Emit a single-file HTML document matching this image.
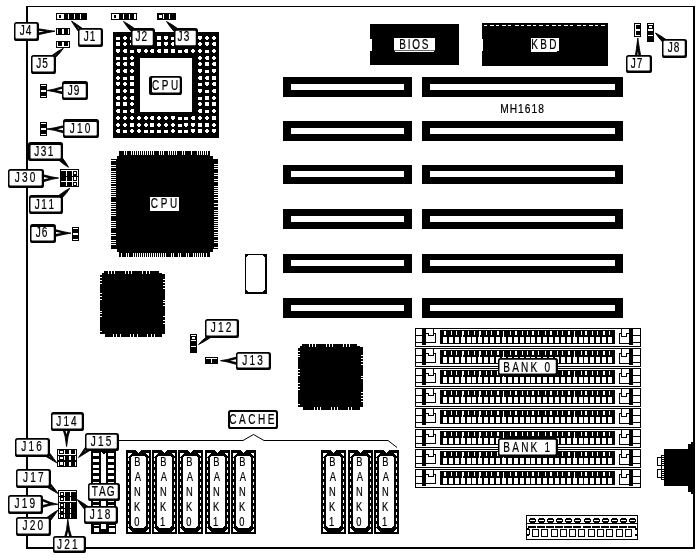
<!DOCTYPE html>
<html lang="en"><head><meta charset="utf-8"><title>MH1618 motherboard layout</title>
<style>
html,body{margin:0;padding:0;background:#fff}
svg{display:block}
svg{will-change:transform}
text{stroke:#000;stroke-width:.22px;font-kerning:none;font-family:"Liberation Sans",sans-serif;fill:#000}
</style></head>
<body>
<svg width="700" height="560" viewBox="0 0 700 560" shape-rendering="crispEdges">
<rect x="0" y="0" width="700" height="560" fill="#fff"/>
<rect x="26" y="6" width="669" height="543" fill="#000"/>
<rect x="28" y="7" width="665" height="540" fill="#fff"/>
<rect x="283" y="77" width="129" height="20" fill="#000"/>
<rect x="291" y="84" width="113" height="6" fill="#fff"/>
<rect x="422" y="77" width="201" height="20" fill="#000"/>
<rect x="430" y="84" width="185" height="6" fill="#fff"/>
<rect x="283" y="121" width="129" height="20" fill="#000"/>
<rect x="291" y="128" width="113" height="6" fill="#fff"/>
<rect x="422" y="121" width="201" height="20" fill="#000"/>
<rect x="430" y="128" width="185" height="6" fill="#fff"/>
<rect x="283" y="165" width="129" height="19" fill="#000"/>
<rect x="291" y="171" width="113" height="6" fill="#fff"/>
<rect x="422" y="165" width="201" height="19" fill="#000"/>
<rect x="430" y="171" width="185" height="6" fill="#fff"/>
<rect x="283" y="209" width="129" height="20" fill="#000"/>
<rect x="291" y="216" width="113" height="6" fill="#fff"/>
<rect x="422" y="209" width="201" height="20" fill="#000"/>
<rect x="430" y="216" width="185" height="6" fill="#fff"/>
<rect x="283" y="254" width="129" height="19" fill="#000"/>
<rect x="291" y="260" width="113" height="6" fill="#fff"/>
<rect x="422" y="254" width="201" height="19" fill="#000"/>
<rect x="430" y="260" width="185" height="6" fill="#fff"/>
<rect x="283" y="298" width="129" height="20" fill="#000"/>
<rect x="291" y="305" width="113" height="6" fill="#fff"/>
<rect x="422" y="298" width="201" height="20" fill="#000"/>
<rect x="430" y="305" width="185" height="6" fill="#fff"/>
<rect x="370" y="24" width="89" height="41" fill="#000"/>
<rect x="370" y="39" width="2" height="12" fill="#fff"/>
<rect x="394" y="38" width="41" height="12" fill="#fff"/>
<rect x="394" y="50" width="41" height="1" fill="#666"/>
<rect x="395" y="51" width="39" height="1" fill="#fff"/>
<rect x="482" y="23" width="126" height="43" fill="#000"/>
<rect x="482" y="39" width="1" height="12" fill="#fff"/>
<rect x="484" y="25" width="3" height="1" fill="#fff"/>
<rect x="490" y="25" width="4" height="1" fill="#fff"/>
<rect x="496" y="25" width="3" height="1" fill="#fff"/>
<rect x="502" y="25" width="4" height="1" fill="#fff"/>
<rect x="508" y="25" width="3" height="1" fill="#fff"/>
<rect x="515" y="25" width="4" height="1" fill="#fff"/>
<rect x="521" y="25" width="3" height="1" fill="#fff"/>
<rect x="527" y="25" width="4" height="1" fill="#fff"/>
<rect x="533" y="25" width="3" height="1" fill="#fff"/>
<rect x="539" y="25" width="4" height="1" fill="#fff"/>
<rect x="546" y="25" width="3" height="1" fill="#fff"/>
<rect x="552" y="25" width="4" height="1" fill="#fff"/>
<rect x="558" y="25" width="3" height="1" fill="#fff"/>
<rect x="564" y="25" width="4" height="1" fill="#fff"/>
<rect x="570" y="25" width="3" height="1" fill="#fff"/>
<rect x="577" y="25" width="4" height="1" fill="#fff"/>
<rect x="583" y="25" width="3" height="1" fill="#fff"/>
<rect x="589" y="25" width="4" height="1" fill="#fff"/>
<rect x="595" y="25" width="3" height="1" fill="#fff"/>
<rect x="601" y="25" width="4" height="1" fill="#fff"/>
<rect x="531" y="38" width="28" height="13" fill="#fff"/>
<rect x="531" y="51" width="26" height="1" fill="#fff"/>
<text transform="translate(399.18,49) scale(0.710,1)" font-size="14" letter-spacing="2.59">BIOS</text>
<text transform="translate(531.18,49) scale(0.710,1)" font-size="14" letter-spacing="3.42">KBD</text>
<text transform="translate(500.16,113) scale(0.850,1)" font-size="12" letter-spacing="1.23">MH1618</text>
<rect x="113" y="32" width="106" height="106" fill="#000"/>
<rect x="140" y="58" width="52" height="54" fill="#fff"/>
<rect x="116" y="37" width="4" height="3" fill="#fff"/>
<rect x="124" y="36" width="2" height="4" fill="#fff"/>
<rect x="123" y="37" width="4" height="2" fill="#fff"/>
<rect x="130" y="37" width="4" height="3" fill="#fff"/>
<rect x="138" y="36" width="2" height="4" fill="#fff"/>
<rect x="137" y="37" width="4" height="2" fill="#fff"/>
<rect x="145" y="36" width="2" height="4" fill="#fff"/>
<rect x="144" y="37" width="4" height="2" fill="#fff"/>
<rect x="150" y="36" width="4" height="4" fill="#fff"/>
<rect x="157" y="36" width="4" height="4" fill="#fff"/>
<rect x="164" y="36" width="4" height="3" fill="#fff"/>
<rect x="165" y="39" width="2" height="1" fill="#fff"/>
<rect x="171" y="37" width="4" height="3" fill="#fff"/>
<rect x="178" y="37" width="4" height="3" fill="#fff"/>
<rect x="185" y="36" width="3" height="4" fill="#fff"/>
<rect x="184" y="37" width="1" height="2" fill="#fff"/>
<rect x="192" y="36" width="2" height="4" fill="#fff"/>
<rect x="191" y="37" width="4" height="2" fill="#fff"/>
<rect x="198" y="36" width="4" height="3" fill="#fff"/>
<rect x="199" y="39" width="2" height="1" fill="#fff"/>
<rect x="206" y="36" width="2" height="4" fill="#fff"/>
<rect x="205" y="37" width="4" height="2" fill="#fff"/>
<rect x="213" y="36" width="2" height="4" fill="#fff"/>
<rect x="212" y="37" width="4" height="2" fill="#fff"/>
<rect x="116" y="42" width="4" height="4" fill="#fff"/>
<rect x="124" y="42" width="2" height="4" fill="#fff"/>
<rect x="123" y="43" width="4" height="2" fill="#fff"/>
<rect x="131" y="42" width="3" height="4" fill="#fff"/>
<rect x="130" y="43" width="1" height="2" fill="#fff"/>
<rect x="138" y="42" width="2" height="4" fill="#fff"/>
<rect x="137" y="43" width="4" height="2" fill="#fff"/>
<rect x="144" y="42" width="4" height="3" fill="#fff"/>
<rect x="145" y="45" width="2" height="1" fill="#fff"/>
<rect x="151" y="42" width="2" height="4" fill="#fff"/>
<rect x="150" y="43" width="4" height="2" fill="#fff"/>
<rect x="157" y="42" width="4" height="4" fill="#fff"/>
<rect x="164" y="42" width="4" height="3" fill="#fff"/>
<rect x="165" y="45" width="2" height="1" fill="#fff"/>
<rect x="172" y="42" width="2" height="4" fill="#fff"/>
<rect x="171" y="43" width="4" height="2" fill="#fff"/>
<rect x="178" y="43" width="4" height="3" fill="#fff"/>
<rect x="184" y="42" width="4" height="4" fill="#fff"/>
<rect x="192" y="42" width="3" height="4" fill="#fff"/>
<rect x="191" y="43" width="1" height="2" fill="#fff"/>
<rect x="199" y="42" width="2" height="4" fill="#fff"/>
<rect x="198" y="43" width="4" height="2" fill="#fff"/>
<rect x="205" y="42" width="4" height="3" fill="#fff"/>
<rect x="206" y="45" width="2" height="1" fill="#fff"/>
<rect x="213" y="42" width="3" height="4" fill="#fff"/>
<rect x="212" y="43" width="1" height="2" fill="#fff"/>
<rect x="116" y="49" width="4" height="3" fill="#fff"/>
<rect x="117" y="52" width="2" height="1" fill="#fff"/>
<rect x="124" y="49" width="3" height="4" fill="#fff"/>
<rect x="123" y="50" width="1" height="2" fill="#fff"/>
<rect x="130" y="50" width="4" height="3" fill="#fff"/>
<rect x="137" y="49" width="4" height="3" fill="#fff"/>
<rect x="138" y="52" width="2" height="1" fill="#fff"/>
<rect x="145" y="49" width="2" height="4" fill="#fff"/>
<rect x="144" y="50" width="4" height="2" fill="#fff"/>
<rect x="151" y="49" width="3" height="4" fill="#fff"/>
<rect x="150" y="50" width="1" height="2" fill="#fff"/>
<rect x="158" y="49" width="3" height="4" fill="#fff"/>
<rect x="157" y="50" width="1" height="2" fill="#fff"/>
<rect x="164" y="49" width="4" height="4" fill="#fff"/>
<rect x="171" y="49" width="4" height="4" fill="#fff"/>
<rect x="178" y="50" width="4" height="3" fill="#fff"/>
<rect x="185" y="49" width="3" height="4" fill="#fff"/>
<rect x="184" y="50" width="1" height="2" fill="#fff"/>
<rect x="192" y="49" width="2" height="4" fill="#fff"/>
<rect x="191" y="50" width="4" height="2" fill="#fff"/>
<rect x="199" y="49" width="2" height="4" fill="#fff"/>
<rect x="198" y="50" width="4" height="2" fill="#fff"/>
<rect x="205" y="50" width="4" height="3" fill="#fff"/>
<rect x="213" y="49" width="2" height="4" fill="#fff"/>
<rect x="212" y="50" width="4" height="2" fill="#fff"/>
<rect x="116" y="57" width="4" height="3" fill="#fff"/>
<rect x="123" y="57" width="4" height="3" fill="#fff"/>
<rect x="131" y="56" width="2" height="4" fill="#fff"/>
<rect x="130" y="57" width="4" height="2" fill="#fff"/>
<rect x="199" y="56" width="2" height="4" fill="#fff"/>
<rect x="198" y="57" width="4" height="2" fill="#fff"/>
<rect x="206" y="56" width="3" height="4" fill="#fff"/>
<rect x="205" y="57" width="1" height="2" fill="#fff"/>
<rect x="213" y="56" width="2" height="4" fill="#fff"/>
<rect x="212" y="57" width="4" height="2" fill="#fff"/>
<rect x="117" y="62" width="3" height="4" fill="#fff"/>
<rect x="116" y="63" width="1" height="2" fill="#fff"/>
<rect x="124" y="62" width="3" height="4" fill="#fff"/>
<rect x="123" y="63" width="1" height="2" fill="#fff"/>
<rect x="131" y="62" width="3" height="4" fill="#fff"/>
<rect x="130" y="63" width="1" height="2" fill="#fff"/>
<rect x="199" y="62" width="2" height="4" fill="#fff"/>
<rect x="198" y="63" width="4" height="2" fill="#fff"/>
<rect x="205" y="62" width="4" height="4" fill="#fff"/>
<rect x="213" y="62" width="3" height="4" fill="#fff"/>
<rect x="212" y="63" width="1" height="2" fill="#fff"/>
<rect x="117" y="69" width="3" height="4" fill="#fff"/>
<rect x="116" y="70" width="1" height="2" fill="#fff"/>
<rect x="124" y="69" width="3" height="4" fill="#fff"/>
<rect x="123" y="70" width="1" height="2" fill="#fff"/>
<rect x="131" y="69" width="2" height="4" fill="#fff"/>
<rect x="130" y="70" width="4" height="2" fill="#fff"/>
<rect x="198" y="69" width="4" height="3" fill="#fff"/>
<rect x="199" y="72" width="2" height="1" fill="#fff"/>
<rect x="205" y="70" width="4" height="3" fill="#fff"/>
<rect x="212" y="69" width="4" height="3" fill="#fff"/>
<rect x="213" y="72" width="2" height="1" fill="#fff"/>
<rect x="117" y="76" width="2" height="4" fill="#fff"/>
<rect x="116" y="77" width="4" height="2" fill="#fff"/>
<rect x="123" y="77" width="4" height="3" fill="#fff"/>
<rect x="130" y="76" width="4" height="4" fill="#fff"/>
<rect x="199" y="76" width="3" height="4" fill="#fff"/>
<rect x="198" y="77" width="1" height="2" fill="#fff"/>
<rect x="206" y="76" width="3" height="4" fill="#fff"/>
<rect x="205" y="77" width="1" height="2" fill="#fff"/>
<rect x="212" y="76" width="4" height="4" fill="#fff"/>
<rect x="116" y="82" width="4" height="3" fill="#fff"/>
<rect x="117" y="85" width="2" height="1" fill="#fff"/>
<rect x="124" y="82" width="2" height="4" fill="#fff"/>
<rect x="123" y="83" width="4" height="2" fill="#fff"/>
<rect x="130" y="82" width="4" height="4" fill="#fff"/>
<rect x="198" y="83" width="4" height="3" fill="#fff"/>
<rect x="205" y="82" width="4" height="3" fill="#fff"/>
<rect x="206" y="85" width="2" height="1" fill="#fff"/>
<rect x="213" y="82" width="3" height="4" fill="#fff"/>
<rect x="212" y="83" width="1" height="2" fill="#fff"/>
<rect x="116" y="89" width="4" height="4" fill="#fff"/>
<rect x="124" y="89" width="2" height="4" fill="#fff"/>
<rect x="123" y="90" width="4" height="2" fill="#fff"/>
<rect x="130" y="89" width="4" height="4" fill="#fff"/>
<rect x="198" y="89" width="4" height="3" fill="#fff"/>
<rect x="199" y="92" width="2" height="1" fill="#fff"/>
<rect x="205" y="90" width="4" height="3" fill="#fff"/>
<rect x="213" y="89" width="3" height="4" fill="#fff"/>
<rect x="212" y="90" width="1" height="2" fill="#fff"/>
<rect x="117" y="96" width="3" height="4" fill="#fff"/>
<rect x="116" y="97" width="1" height="2" fill="#fff"/>
<rect x="124" y="96" width="2" height="4" fill="#fff"/>
<rect x="123" y="97" width="4" height="2" fill="#fff"/>
<rect x="131" y="96" width="3" height="4" fill="#fff"/>
<rect x="130" y="97" width="1" height="2" fill="#fff"/>
<rect x="198" y="97" width="4" height="3" fill="#fff"/>
<rect x="205" y="96" width="4" height="4" fill="#fff"/>
<rect x="213" y="96" width="2" height="4" fill="#fff"/>
<rect x="212" y="97" width="4" height="2" fill="#fff"/>
<rect x="116" y="102" width="4" height="4" fill="#fff"/>
<rect x="123" y="102" width="4" height="4" fill="#fff"/>
<rect x="131" y="102" width="2" height="4" fill="#fff"/>
<rect x="130" y="103" width="4" height="2" fill="#fff"/>
<rect x="199" y="102" width="2" height="4" fill="#fff"/>
<rect x="198" y="103" width="4" height="2" fill="#fff"/>
<rect x="205" y="102" width="4" height="4" fill="#fff"/>
<rect x="212" y="102" width="4" height="4" fill="#fff"/>
<rect x="117" y="109" width="3" height="4" fill="#fff"/>
<rect x="116" y="110" width="1" height="2" fill="#fff"/>
<rect x="123" y="110" width="4" height="3" fill="#fff"/>
<rect x="131" y="109" width="3" height="4" fill="#fff"/>
<rect x="130" y="110" width="1" height="2" fill="#fff"/>
<rect x="199" y="109" width="3" height="4" fill="#fff"/>
<rect x="198" y="110" width="1" height="2" fill="#fff"/>
<rect x="205" y="110" width="4" height="3" fill="#fff"/>
<rect x="213" y="109" width="2" height="4" fill="#fff"/>
<rect x="212" y="110" width="4" height="2" fill="#fff"/>
<rect x="117" y="116" width="2" height="4" fill="#fff"/>
<rect x="116" y="117" width="4" height="2" fill="#fff"/>
<rect x="124" y="116" width="2" height="4" fill="#fff"/>
<rect x="123" y="117" width="4" height="2" fill="#fff"/>
<rect x="131" y="116" width="2" height="4" fill="#fff"/>
<rect x="130" y="117" width="4" height="2" fill="#fff"/>
<rect x="138" y="116" width="2" height="4" fill="#fff"/>
<rect x="137" y="117" width="4" height="2" fill="#fff"/>
<rect x="145" y="116" width="2" height="4" fill="#fff"/>
<rect x="144" y="117" width="4" height="2" fill="#fff"/>
<rect x="151" y="116" width="3" height="4" fill="#fff"/>
<rect x="150" y="117" width="1" height="2" fill="#fff"/>
<rect x="158" y="116" width="2" height="4" fill="#fff"/>
<rect x="157" y="117" width="4" height="2" fill="#fff"/>
<rect x="165" y="116" width="2" height="4" fill="#fff"/>
<rect x="164" y="117" width="4" height="2" fill="#fff"/>
<rect x="171" y="116" width="4" height="3" fill="#fff"/>
<rect x="172" y="119" width="2" height="1" fill="#fff"/>
<rect x="178" y="117" width="4" height="3" fill="#fff"/>
<rect x="184" y="117" width="4" height="3" fill="#fff"/>
<rect x="192" y="116" width="3" height="4" fill="#fff"/>
<rect x="191" y="117" width="1" height="2" fill="#fff"/>
<rect x="199" y="116" width="2" height="4" fill="#fff"/>
<rect x="198" y="117" width="4" height="2" fill="#fff"/>
<rect x="206" y="116" width="2" height="4" fill="#fff"/>
<rect x="205" y="117" width="4" height="2" fill="#fff"/>
<rect x="212" y="116" width="4" height="4" fill="#fff"/>
<rect x="117" y="123" width="2" height="4" fill="#fff"/>
<rect x="116" y="124" width="4" height="2" fill="#fff"/>
<rect x="124" y="123" width="2" height="4" fill="#fff"/>
<rect x="123" y="124" width="4" height="2" fill="#fff"/>
<rect x="130" y="123" width="4" height="4" fill="#fff"/>
<rect x="138" y="123" width="2" height="4" fill="#fff"/>
<rect x="137" y="124" width="4" height="2" fill="#fff"/>
<rect x="145" y="123" width="2" height="4" fill="#fff"/>
<rect x="144" y="124" width="4" height="2" fill="#fff"/>
<rect x="150" y="123" width="4" height="4" fill="#fff"/>
<rect x="158" y="123" width="2" height="4" fill="#fff"/>
<rect x="157" y="124" width="4" height="2" fill="#fff"/>
<rect x="165" y="123" width="2" height="4" fill="#fff"/>
<rect x="164" y="124" width="4" height="2" fill="#fff"/>
<rect x="172" y="123" width="2" height="4" fill="#fff"/>
<rect x="171" y="124" width="4" height="2" fill="#fff"/>
<rect x="178" y="124" width="4" height="3" fill="#fff"/>
<rect x="184" y="123" width="4" height="3" fill="#fff"/>
<rect x="185" y="126" width="2" height="1" fill="#fff"/>
<rect x="191" y="123" width="4" height="3" fill="#fff"/>
<rect x="192" y="126" width="2" height="1" fill="#fff"/>
<rect x="198" y="123" width="4" height="4" fill="#fff"/>
<rect x="205" y="123" width="4" height="4" fill="#fff"/>
<rect x="213" y="123" width="2" height="4" fill="#fff"/>
<rect x="212" y="124" width="4" height="2" fill="#fff"/>
<rect x="117" y="129" width="3" height="4" fill="#fff"/>
<rect x="116" y="130" width="1" height="2" fill="#fff"/>
<rect x="123" y="130" width="4" height="3" fill="#fff"/>
<rect x="131" y="129" width="2" height="4" fill="#fff"/>
<rect x="130" y="130" width="4" height="2" fill="#fff"/>
<rect x="138" y="129" width="2" height="4" fill="#fff"/>
<rect x="137" y="130" width="4" height="2" fill="#fff"/>
<rect x="144" y="130" width="4" height="3" fill="#fff"/>
<rect x="150" y="130" width="4" height="3" fill="#fff"/>
<rect x="157" y="130" width="4" height="3" fill="#fff"/>
<rect x="164" y="130" width="4" height="3" fill="#fff"/>
<rect x="172" y="129" width="2" height="4" fill="#fff"/>
<rect x="171" y="130" width="4" height="2" fill="#fff"/>
<rect x="178" y="130" width="4" height="3" fill="#fff"/>
<rect x="184" y="130" width="4" height="3" fill="#fff"/>
<rect x="191" y="129" width="4" height="3" fill="#fff"/>
<rect x="192" y="132" width="2" height="1" fill="#fff"/>
<rect x="198" y="129" width="4" height="4" fill="#fff"/>
<rect x="206" y="129" width="2" height="4" fill="#fff"/>
<rect x="205" y="130" width="4" height="2" fill="#fff"/>
<rect x="212" y="129" width="4" height="3" fill="#fff"/>
<rect x="213" y="132" width="2" height="1" fill="#fff"/>
<rect x="117" y="156" width="96" height="96" fill="#000"/>
<rect x="119" y="151" width="91" height="5" fill="#000"/>
<rect x="124" y="151" width="1" height="4" fill="#fff"/>
<rect x="126" y="151" width="1" height="4" fill="#fff"/>
<rect x="131" y="151" width="1" height="4" fill="#fff"/>
<rect x="133" y="151" width="1" height="4" fill="#fff"/>
<rect x="135" y="151" width="1" height="4" fill="#fff"/>
<rect x="137" y="151" width="1" height="4" fill="#fff"/>
<rect x="139" y="151" width="1" height="4" fill="#fff"/>
<rect x="141" y="151" width="1" height="4" fill="#fff"/>
<rect x="143" y="151" width="1" height="4" fill="#fff"/>
<rect x="145" y="151" width="1" height="4" fill="#fff"/>
<rect x="147" y="151" width="1" height="4" fill="#fff"/>
<rect x="149" y="151" width="1" height="4" fill="#fff"/>
<rect x="151" y="151" width="1" height="4" fill="#fff"/>
<rect x="153" y="151" width="1" height="4" fill="#fff"/>
<rect x="159" y="151" width="1" height="4" fill="#fff"/>
<rect x="161" y="151" width="1" height="4" fill="#fff"/>
<rect x="163" y="151" width="1" height="4" fill="#fff"/>
<rect x="168" y="151" width="1" height="4" fill="#fff"/>
<rect x="170" y="151" width="1" height="4" fill="#fff"/>
<rect x="172" y="151" width="1" height="4" fill="#fff"/>
<rect x="174" y="151" width="1" height="4" fill="#fff"/>
<rect x="176" y="151" width="1" height="4" fill="#fff"/>
<rect x="182" y="151" width="1" height="4" fill="#fff"/>
<rect x="184" y="151" width="1" height="4" fill="#fff"/>
<rect x="191" y="151" width="1" height="4" fill="#fff"/>
<rect x="197" y="151" width="1" height="4" fill="#fff"/>
<rect x="199" y="151" width="1" height="4" fill="#fff"/>
<rect x="201" y="151" width="1" height="4" fill="#fff"/>
<rect x="203" y="151" width="1" height="4" fill="#fff"/>
<rect x="205" y="151" width="1" height="4" fill="#fff"/>
<rect x="207" y="151" width="1" height="4" fill="#fff"/>
<rect x="119" y="252" width="91" height="5" fill="#000"/>
<rect x="121" y="253" width="1" height="4" fill="#fff"/>
<rect x="126" y="253" width="1" height="4" fill="#fff"/>
<rect x="128" y="253" width="1" height="4" fill="#fff"/>
<rect x="133" y="253" width="1" height="4" fill="#fff"/>
<rect x="135" y="253" width="1" height="4" fill="#fff"/>
<rect x="137" y="253" width="1" height="4" fill="#fff"/>
<rect x="139" y="253" width="1" height="4" fill="#fff"/>
<rect x="141" y="253" width="1" height="4" fill="#fff"/>
<rect x="143" y="253" width="1" height="4" fill="#fff"/>
<rect x="145" y="253" width="1" height="4" fill="#fff"/>
<rect x="147" y="253" width="1" height="4" fill="#fff"/>
<rect x="149" y="253" width="1" height="4" fill="#fff"/>
<rect x="151" y="253" width="1" height="4" fill="#fff"/>
<rect x="153" y="253" width="1" height="4" fill="#fff"/>
<rect x="155" y="253" width="1" height="4" fill="#fff"/>
<rect x="157" y="253" width="1" height="4" fill="#fff"/>
<rect x="159" y="253" width="1" height="4" fill="#fff"/>
<rect x="161" y="253" width="1" height="4" fill="#fff"/>
<rect x="163" y="253" width="1" height="4" fill="#fff"/>
<rect x="165" y="253" width="1" height="4" fill="#fff"/>
<rect x="171" y="253" width="1" height="4" fill="#fff"/>
<rect x="173" y="253" width="1" height="4" fill="#fff"/>
<rect x="178" y="253" width="1" height="4" fill="#fff"/>
<rect x="180" y="253" width="1" height="4" fill="#fff"/>
<rect x="186" y="253" width="1" height="4" fill="#fff"/>
<rect x="188" y="253" width="1" height="4" fill="#fff"/>
<rect x="193" y="253" width="1" height="4" fill="#fff"/>
<rect x="195" y="253" width="1" height="4" fill="#fff"/>
<rect x="197" y="253" width="1" height="4" fill="#fff"/>
<rect x="199" y="253" width="1" height="4" fill="#fff"/>
<rect x="201" y="253" width="1" height="4" fill="#fff"/>
<rect x="203" y="253" width="1" height="4" fill="#fff"/>
<rect x="206" y="253" width="1" height="4" fill="#fff"/>
<rect x="111" y="159" width="6" height="90" fill="#000"/>
<rect x="111" y="160" width="5" height="1" fill="#fff"/>
<rect x="111" y="165" width="5" height="1" fill="#fff"/>
<rect x="111" y="167" width="5" height="1" fill="#fff"/>
<rect x="111" y="171" width="5" height="1" fill="#fff"/>
<rect x="111" y="173" width="5" height="1" fill="#fff"/>
<rect x="111" y="175" width="5" height="1" fill="#fff"/>
<rect x="111" y="177" width="5" height="1" fill="#fff"/>
<rect x="111" y="179" width="5" height="1" fill="#fff"/>
<rect x="111" y="181" width="5" height="1" fill="#fff"/>
<rect x="111" y="183" width="5" height="1" fill="#fff"/>
<rect x="111" y="186" width="5" height="1" fill="#fff"/>
<rect x="111" y="188" width="5" height="1" fill="#fff"/>
<rect x="111" y="190" width="5" height="1" fill="#fff"/>
<rect x="111" y="192" width="5" height="1" fill="#fff"/>
<rect x="111" y="194" width="5" height="1" fill="#fff"/>
<rect x="111" y="196" width="5" height="1" fill="#fff"/>
<rect x="111" y="202" width="5" height="1" fill="#fff"/>
<rect x="111" y="204" width="5" height="1" fill="#fff"/>
<rect x="111" y="206" width="5" height="1" fill="#fff"/>
<rect x="111" y="208" width="5" height="1" fill="#fff"/>
<rect x="111" y="211" width="5" height="1" fill="#fff"/>
<rect x="111" y="213" width="5" height="1" fill="#fff"/>
<rect x="111" y="215" width="5" height="1" fill="#fff"/>
<rect x="111" y="221" width="5" height="1" fill="#fff"/>
<rect x="111" y="223" width="5" height="1" fill="#fff"/>
<rect x="111" y="225" width="5" height="1" fill="#fff"/>
<rect x="111" y="227" width="5" height="1" fill="#fff"/>
<rect x="111" y="233" width="5" height="1" fill="#fff"/>
<rect x="111" y="235" width="5" height="1" fill="#fff"/>
<rect x="111" y="240" width="5" height="1" fill="#fff"/>
<rect x="111" y="242" width="5" height="1" fill="#fff"/>
<rect x="111" y="244" width="5" height="1" fill="#fff"/>
<rect x="213" y="159" width="5" height="90" fill="#000"/>
<rect x="214" y="164" width="4" height="1" fill="#fff"/>
<rect x="214" y="166" width="4" height="1" fill="#fff"/>
<rect x="214" y="168" width="4" height="1" fill="#fff"/>
<rect x="214" y="173" width="4" height="1" fill="#fff"/>
<rect x="214" y="175" width="4" height="1" fill="#fff"/>
<rect x="214" y="179" width="4" height="1" fill="#fff"/>
<rect x="214" y="181" width="4" height="1" fill="#fff"/>
<rect x="214" y="186" width="4" height="1" fill="#fff"/>
<rect x="214" y="188" width="4" height="1" fill="#fff"/>
<rect x="214" y="190" width="4" height="1" fill="#fff"/>
<rect x="214" y="192" width="4" height="1" fill="#fff"/>
<rect x="214" y="194" width="4" height="1" fill="#fff"/>
<rect x="214" y="197" width="4" height="1" fill="#fff"/>
<rect x="214" y="199" width="4" height="1" fill="#fff"/>
<rect x="214" y="203" width="4" height="1" fill="#fff"/>
<rect x="214" y="206" width="4" height="1" fill="#fff"/>
<rect x="214" y="210" width="4" height="1" fill="#fff"/>
<rect x="214" y="212" width="4" height="1" fill="#fff"/>
<rect x="214" y="214" width="4" height="1" fill="#fff"/>
<rect x="214" y="216" width="4" height="1" fill="#fff"/>
<rect x="214" y="219" width="4" height="1" fill="#fff"/>
<rect x="214" y="221" width="4" height="1" fill="#fff"/>
<rect x="214" y="223" width="4" height="1" fill="#fff"/>
<rect x="214" y="225" width="4" height="1" fill="#fff"/>
<rect x="214" y="227" width="4" height="1" fill="#fff"/>
<rect x="214" y="229" width="4" height="1" fill="#fff"/>
<rect x="214" y="232" width="4" height="1" fill="#fff"/>
<rect x="214" y="234" width="4" height="1" fill="#fff"/>
<rect x="214" y="236" width="4" height="1" fill="#fff"/>
<rect x="214" y="240" width="4" height="1" fill="#fff"/>
<rect x="214" y="242" width="4" height="1" fill="#fff"/>
<rect x="214" y="247" width="4" height="1" fill="#fff"/>
<polygon points="104,271 159,271 159,273 162,273 162,274 165,274 165,334 162,334 162,337 105,337 105,334 100,334 100,275 102,275 102,273 104,273" fill="#000"/>
<rect x="108" y="271" width="1" height="3" fill="#fff"/>
<rect x="111" y="271" width="1" height="3" fill="#fff"/>
<rect x="114" y="271" width="1" height="3" fill="#fff"/>
<rect x="125" y="271" width="1" height="3" fill="#fff"/>
<rect x="128" y="271" width="1" height="3" fill="#fff"/>
<rect x="131" y="271" width="1" height="3" fill="#fff"/>
<rect x="142" y="271" width="1" height="3" fill="#fff"/>
<rect x="146" y="271" width="1" height="3" fill="#fff"/>
<rect x="149" y="271" width="1" height="3" fill="#fff"/>
<rect x="113" y="334" width="1" height="3" fill="#fff"/>
<rect x="116" y="334" width="1" height="3" fill="#fff"/>
<rect x="120" y="334" width="1" height="3" fill="#fff"/>
<rect x="130" y="334" width="1" height="3" fill="#fff"/>
<rect x="133" y="334" width="1" height="3" fill="#fff"/>
<rect x="137" y="334" width="1" height="3" fill="#fff"/>
<rect x="147" y="334" width="1" height="3" fill="#fff"/>
<rect x="151" y="334" width="1" height="3" fill="#fff"/>
<rect x="154" y="334" width="1" height="3" fill="#fff"/>
<rect x="100" y="277" width="2" height="1" fill="#fff"/>
<rect x="100" y="280" width="2" height="1" fill="#fff"/>
<rect x="100" y="283" width="2" height="1" fill="#fff"/>
<rect x="100" y="293" width="2" height="1" fill="#fff"/>
<rect x="100" y="296" width="2" height="1" fill="#fff"/>
<rect x="100" y="299" width="2" height="1" fill="#fff"/>
<rect x="100" y="311" width="2" height="1" fill="#fff"/>
<rect x="100" y="313" width="2" height="1" fill="#fff"/>
<rect x="100" y="316" width="2" height="1" fill="#fff"/>
<rect x="100" y="331" width="2" height="1" fill="#fff"/>
<rect x="163" y="279" width="2" height="1" fill="#fff"/>
<rect x="163" y="282" width="2" height="1" fill="#fff"/>
<rect x="163" y="285" width="2" height="1" fill="#fff"/>
<rect x="163" y="288" width="2" height="1" fill="#fff"/>
<rect x="163" y="300" width="2" height="1" fill="#fff"/>
<rect x="163" y="302" width="2" height="1" fill="#fff"/>
<rect x="163" y="305" width="2" height="1" fill="#fff"/>
<rect x="163" y="316" width="2" height="1" fill="#fff"/>
<rect x="163" y="320" width="2" height="1" fill="#fff"/>
<rect x="163" y="323" width="2" height="1" fill="#fff"/>
<polygon points="302,344 357,344 357,346 360,346 360,347 363,347 363,407 360,407 360,410 303,410 303,407 298,407 298,348 300,348 300,346 302,346" fill="#000"/>
<rect x="309" y="344" width="1" height="3" fill="#fff"/>
<rect x="312" y="344" width="1" height="3" fill="#fff"/>
<rect x="315" y="344" width="1" height="3" fill="#fff"/>
<rect x="326" y="344" width="1" height="3" fill="#fff"/>
<rect x="329" y="344" width="1" height="3" fill="#fff"/>
<rect x="332" y="344" width="1" height="3" fill="#fff"/>
<rect x="343" y="344" width="1" height="3" fill="#fff"/>
<rect x="346" y="344" width="1" height="3" fill="#fff"/>
<rect x="349" y="344" width="1" height="3" fill="#fff"/>
<rect x="314" y="407" width="1" height="3" fill="#fff"/>
<rect x="317" y="407" width="1" height="3" fill="#fff"/>
<rect x="320" y="407" width="1" height="3" fill="#fff"/>
<rect x="331" y="407" width="1" height="3" fill="#fff"/>
<rect x="334" y="407" width="1" height="3" fill="#fff"/>
<rect x="337" y="407" width="1" height="3" fill="#fff"/>
<rect x="348" y="407" width="1" height="3" fill="#fff"/>
<rect x="351" y="407" width="1" height="3" fill="#fff"/>
<rect x="298" y="351" width="2" height="1" fill="#fff"/>
<rect x="298" y="354" width="2" height="1" fill="#fff"/>
<rect x="298" y="356" width="2" height="1" fill="#fff"/>
<rect x="298" y="369" width="2" height="1" fill="#fff"/>
<rect x="298" y="372" width="2" height="1" fill="#fff"/>
<rect x="298" y="375" width="2" height="1" fill="#fff"/>
<rect x="298" y="383" width="2" height="1" fill="#fff"/>
<rect x="298" y="386" width="2" height="1" fill="#fff"/>
<rect x="298" y="389" width="2" height="1" fill="#fff"/>
<rect x="298" y="404" width="2" height="1" fill="#fff"/>
<rect x="361" y="355" width="2" height="1" fill="#fff"/>
<rect x="361" y="358" width="2" height="1" fill="#fff"/>
<rect x="361" y="361" width="2" height="1" fill="#fff"/>
<rect x="361" y="364" width="2" height="1" fill="#fff"/>
<rect x="361" y="376" width="2" height="1" fill="#fff"/>
<rect x="361" y="378" width="2" height="1" fill="#fff"/>
<rect x="361" y="392" width="2" height="1" fill="#fff"/>
<rect x="361" y="395" width="2" height="1" fill="#fff"/>
<rect x="361" y="398" width="2" height="1" fill="#fff"/>
<rect x="361" y="401" width="2" height="1" fill="#fff"/>
<rect x="245" y="254" width="22" height="40" fill="#000"/>
<rect x="246" y="255" width="19" height="37" rx="4" fill="#fff"/>
<rect x="415" y="328" width="226" height="19" fill="#000"/>
<rect x="416" y="329" width="224" height="17" fill="#fff"/>
<rect x="416" y="335" width="6" height="1" fill="#000"/>
<rect x="416" y="342" width="6" height="1" fill="#000"/>
<rect x="422" y="329" width="4" height="16" fill="#000"/>
<rect x="426" y="333" width="3" height="1" fill="#000"/>
<rect x="428" y="333" width="1" height="3" fill="#000"/>
<rect x="428" y="335" width="6" height="1" fill="#000"/>
<rect x="433" y="329" width="1" height="7" fill="#000"/>
<rect x="433" y="333" width="3" height="1" fill="#000"/>
<rect x="435" y="333" width="1" height="10" fill="#000"/>
<rect x="426" y="342" width="10" height="1" fill="#000"/>
<rect x="633" y="335" width="7" height="1" fill="#000"/>
<rect x="633" y="342" width="7" height="1" fill="#000"/>
<rect x="629" y="329" width="4" height="16" fill="#000"/>
<rect x="619" y="333" width="3" height="1" fill="#000"/>
<rect x="621" y="329" width="1" height="8" fill="#000"/>
<rect x="621" y="336" width="6" height="1" fill="#000"/>
<rect x="626" y="333" width="1" height="4" fill="#000"/>
<rect x="626" y="333" width="4" height="1" fill="#000"/>
<rect x="619" y="333" width="1" height="11" fill="#000"/>
<rect x="619" y="343" width="11" height="1" fill="#000"/>
<rect x="440" y="330" width="175" height="14" fill="#000"/>
<rect x="443" y="337" width="4" height="6" fill="#fff"/>
<rect x="444" y="331" width="2" height="4" fill="#fff"/>
<rect x="449" y="337" width="4" height="6" fill="#fff"/>
<rect x="451" y="331" width="1" height="4" fill="#fff"/>
<rect x="455" y="337" width="4" height="6" fill="#fff"/>
<rect x="456" y="331" width="1" height="4" fill="#fff"/>
<rect x="461" y="337" width="4" height="6" fill="#fff"/>
<rect x="462" y="331" width="2" height="4" fill="#fff"/>
<rect x="462" y="331" width="1" height="7" fill="#fff"/>
<rect x="467" y="337" width="4" height="6" fill="#fff"/>
<rect x="468" y="331" width="1" height="4" fill="#fff"/>
<rect x="472" y="337" width="4" height="6" fill="#fff"/>
<rect x="474" y="331" width="1" height="4" fill="#fff"/>
<rect x="478" y="337" width="4" height="6" fill="#fff"/>
<rect x="479" y="331" width="2" height="4" fill="#fff"/>
<rect x="479" y="331" width="1" height="7" fill="#fff"/>
<rect x="484" y="337" width="4" height="6" fill="#fff"/>
<rect x="486" y="331" width="1" height="4" fill="#fff"/>
<rect x="490" y="337" width="4" height="6" fill="#fff"/>
<rect x="491" y="331" width="1" height="4" fill="#fff"/>
<rect x="496" y="337" width="4" height="6" fill="#fff"/>
<rect x="497" y="331" width="2" height="4" fill="#fff"/>
<rect x="502" y="337" width="4" height="6" fill="#fff"/>
<rect x="503" y="331" width="1" height="4" fill="#fff"/>
<rect x="503" y="331" width="1" height="7" fill="#fff"/>
<rect x="508" y="337" width="4" height="6" fill="#fff"/>
<rect x="510" y="331" width="1" height="4" fill="#fff"/>
<rect x="514" y="337" width="4" height="6" fill="#fff"/>
<rect x="515" y="331" width="2" height="4" fill="#fff"/>
<rect x="520" y="337" width="4" height="6" fill="#fff"/>
<rect x="522" y="331" width="1" height="4" fill="#fff"/>
<rect x="526" y="337" width="4" height="6" fill="#fff"/>
<rect x="527" y="331" width="1" height="4" fill="#fff"/>
<rect x="531" y="337" width="4" height="6" fill="#fff"/>
<rect x="532" y="331" width="2" height="4" fill="#fff"/>
<rect x="537" y="337" width="4" height="6" fill="#fff"/>
<rect x="538" y="331" width="1" height="4" fill="#fff"/>
<rect x="543" y="337" width="4" height="6" fill="#fff"/>
<rect x="545" y="331" width="1" height="4" fill="#fff"/>
<rect x="549" y="337" width="4" height="6" fill="#fff"/>
<rect x="550" y="331" width="2" height="4" fill="#fff"/>
<rect x="555" y="337" width="4" height="6" fill="#fff"/>
<rect x="557" y="331" width="1" height="4" fill="#fff"/>
<rect x="561" y="337" width="4" height="6" fill="#fff"/>
<rect x="562" y="331" width="1" height="4" fill="#fff"/>
<rect x="567" y="337" width="4" height="6" fill="#fff"/>
<rect x="568" y="331" width="2" height="4" fill="#fff"/>
<rect x="573" y="337" width="4" height="6" fill="#fff"/>
<rect x="574" y="331" width="1" height="4" fill="#fff"/>
<rect x="574" y="331" width="1" height="7" fill="#fff"/>
<rect x="579" y="337" width="4" height="6" fill="#fff"/>
<rect x="581" y="331" width="1" height="4" fill="#fff"/>
<rect x="584" y="337" width="4" height="6" fill="#fff"/>
<rect x="585" y="331" width="2" height="4" fill="#fff"/>
<rect x="590" y="337" width="4" height="6" fill="#fff"/>
<rect x="592" y="331" width="1" height="4" fill="#fff"/>
<rect x="596" y="337" width="4" height="6" fill="#fff"/>
<rect x="597" y="331" width="1" height="4" fill="#fff"/>
<rect x="602" y="337" width="4" height="6" fill="#fff"/>
<rect x="603" y="331" width="2" height="4" fill="#fff"/>
<rect x="608" y="337" width="4" height="6" fill="#fff"/>
<rect x="609" y="331" width="1" height="4" fill="#fff"/>
<rect x="415" y="348" width="226" height="19" fill="#000"/>
<rect x="416" y="349" width="224" height="17" fill="#fff"/>
<rect x="416" y="355" width="6" height="1" fill="#000"/>
<rect x="416" y="362" width="6" height="1" fill="#000"/>
<rect x="422" y="349" width="4" height="16" fill="#000"/>
<rect x="426" y="353" width="3" height="1" fill="#000"/>
<rect x="428" y="353" width="1" height="3" fill="#000"/>
<rect x="428" y="355" width="6" height="1" fill="#000"/>
<rect x="433" y="349" width="1" height="7" fill="#000"/>
<rect x="433" y="353" width="3" height="1" fill="#000"/>
<rect x="435" y="353" width="1" height="10" fill="#000"/>
<rect x="426" y="362" width="10" height="1" fill="#000"/>
<rect x="633" y="355" width="7" height="1" fill="#000"/>
<rect x="633" y="362" width="7" height="1" fill="#000"/>
<rect x="629" y="349" width="4" height="16" fill="#000"/>
<rect x="619" y="353" width="3" height="1" fill="#000"/>
<rect x="621" y="349" width="1" height="8" fill="#000"/>
<rect x="621" y="356" width="6" height="1" fill="#000"/>
<rect x="626" y="353" width="1" height="4" fill="#000"/>
<rect x="626" y="353" width="4" height="1" fill="#000"/>
<rect x="619" y="353" width="1" height="11" fill="#000"/>
<rect x="619" y="363" width="11" height="1" fill="#000"/>
<rect x="440" y="350" width="175" height="14" fill="#000"/>
<rect x="443" y="357" width="4" height="6" fill="#fff"/>
<rect x="444" y="351" width="2" height="4" fill="#fff"/>
<rect x="449" y="357" width="4" height="6" fill="#fff"/>
<rect x="451" y="351" width="1" height="4" fill="#fff"/>
<rect x="455" y="357" width="4" height="6" fill="#fff"/>
<rect x="456" y="351" width="1" height="4" fill="#fff"/>
<rect x="461" y="357" width="4" height="6" fill="#fff"/>
<rect x="462" y="351" width="2" height="4" fill="#fff"/>
<rect x="462" y="351" width="1" height="7" fill="#fff"/>
<rect x="467" y="357" width="4" height="6" fill="#fff"/>
<rect x="468" y="351" width="1" height="4" fill="#fff"/>
<rect x="472" y="357" width="4" height="6" fill="#fff"/>
<rect x="474" y="351" width="1" height="4" fill="#fff"/>
<rect x="478" y="357" width="4" height="6" fill="#fff"/>
<rect x="479" y="351" width="2" height="4" fill="#fff"/>
<rect x="479" y="351" width="1" height="7" fill="#fff"/>
<rect x="484" y="357" width="4" height="6" fill="#fff"/>
<rect x="486" y="351" width="1" height="4" fill="#fff"/>
<rect x="490" y="357" width="4" height="6" fill="#fff"/>
<rect x="491" y="351" width="1" height="4" fill="#fff"/>
<rect x="496" y="357" width="4" height="6" fill="#fff"/>
<rect x="497" y="351" width="2" height="4" fill="#fff"/>
<rect x="502" y="357" width="4" height="6" fill="#fff"/>
<rect x="503" y="351" width="1" height="4" fill="#fff"/>
<rect x="503" y="351" width="1" height="7" fill="#fff"/>
<rect x="508" y="357" width="4" height="6" fill="#fff"/>
<rect x="510" y="351" width="1" height="4" fill="#fff"/>
<rect x="514" y="357" width="4" height="6" fill="#fff"/>
<rect x="515" y="351" width="2" height="4" fill="#fff"/>
<rect x="520" y="357" width="4" height="6" fill="#fff"/>
<rect x="522" y="351" width="1" height="4" fill="#fff"/>
<rect x="526" y="357" width="4" height="6" fill="#fff"/>
<rect x="527" y="351" width="1" height="4" fill="#fff"/>
<rect x="531" y="357" width="4" height="6" fill="#fff"/>
<rect x="532" y="351" width="2" height="4" fill="#fff"/>
<rect x="537" y="357" width="4" height="6" fill="#fff"/>
<rect x="538" y="351" width="1" height="4" fill="#fff"/>
<rect x="543" y="357" width="4" height="6" fill="#fff"/>
<rect x="545" y="351" width="1" height="4" fill="#fff"/>
<rect x="549" y="357" width="4" height="6" fill="#fff"/>
<rect x="550" y="351" width="2" height="4" fill="#fff"/>
<rect x="555" y="357" width="4" height="6" fill="#fff"/>
<rect x="557" y="351" width="1" height="4" fill="#fff"/>
<rect x="561" y="357" width="4" height="6" fill="#fff"/>
<rect x="562" y="351" width="1" height="4" fill="#fff"/>
<rect x="567" y="357" width="4" height="6" fill="#fff"/>
<rect x="568" y="351" width="2" height="4" fill="#fff"/>
<rect x="573" y="357" width="4" height="6" fill="#fff"/>
<rect x="574" y="351" width="1" height="4" fill="#fff"/>
<rect x="574" y="351" width="1" height="7" fill="#fff"/>
<rect x="579" y="357" width="4" height="6" fill="#fff"/>
<rect x="581" y="351" width="1" height="4" fill="#fff"/>
<rect x="584" y="357" width="4" height="6" fill="#fff"/>
<rect x="585" y="351" width="2" height="4" fill="#fff"/>
<rect x="590" y="357" width="4" height="6" fill="#fff"/>
<rect x="592" y="351" width="1" height="4" fill="#fff"/>
<rect x="596" y="357" width="4" height="6" fill="#fff"/>
<rect x="597" y="351" width="1" height="4" fill="#fff"/>
<rect x="602" y="357" width="4" height="6" fill="#fff"/>
<rect x="603" y="351" width="2" height="4" fill="#fff"/>
<rect x="608" y="357" width="4" height="6" fill="#fff"/>
<rect x="609" y="351" width="1" height="4" fill="#fff"/>
<rect x="415" y="368" width="226" height="19" fill="#000"/>
<rect x="416" y="369" width="224" height="17" fill="#fff"/>
<rect x="416" y="375" width="6" height="1" fill="#000"/>
<rect x="416" y="382" width="6" height="1" fill="#000"/>
<rect x="422" y="369" width="4" height="16" fill="#000"/>
<rect x="426" y="373" width="3" height="1" fill="#000"/>
<rect x="428" y="373" width="1" height="3" fill="#000"/>
<rect x="428" y="375" width="6" height="1" fill="#000"/>
<rect x="433" y="369" width="1" height="7" fill="#000"/>
<rect x="433" y="373" width="3" height="1" fill="#000"/>
<rect x="435" y="373" width="1" height="10" fill="#000"/>
<rect x="426" y="382" width="10" height="1" fill="#000"/>
<rect x="633" y="375" width="7" height="1" fill="#000"/>
<rect x="633" y="382" width="7" height="1" fill="#000"/>
<rect x="629" y="369" width="4" height="16" fill="#000"/>
<rect x="619" y="373" width="3" height="1" fill="#000"/>
<rect x="621" y="369" width="1" height="8" fill="#000"/>
<rect x="621" y="376" width="6" height="1" fill="#000"/>
<rect x="626" y="373" width="1" height="4" fill="#000"/>
<rect x="626" y="373" width="4" height="1" fill="#000"/>
<rect x="619" y="373" width="1" height="11" fill="#000"/>
<rect x="619" y="383" width="11" height="1" fill="#000"/>
<rect x="440" y="370" width="175" height="14" fill="#000"/>
<rect x="443" y="377" width="4" height="6" fill="#fff"/>
<rect x="444" y="371" width="2" height="4" fill="#fff"/>
<rect x="449" y="377" width="4" height="6" fill="#fff"/>
<rect x="451" y="371" width="1" height="4" fill="#fff"/>
<rect x="455" y="377" width="4" height="6" fill="#fff"/>
<rect x="456" y="371" width="1" height="4" fill="#fff"/>
<rect x="461" y="377" width="4" height="6" fill="#fff"/>
<rect x="462" y="371" width="2" height="4" fill="#fff"/>
<rect x="462" y="371" width="1" height="7" fill="#fff"/>
<rect x="467" y="377" width="4" height="6" fill="#fff"/>
<rect x="468" y="371" width="1" height="4" fill="#fff"/>
<rect x="472" y="377" width="4" height="6" fill="#fff"/>
<rect x="474" y="371" width="1" height="4" fill="#fff"/>
<rect x="478" y="377" width="4" height="6" fill="#fff"/>
<rect x="479" y="371" width="2" height="4" fill="#fff"/>
<rect x="479" y="371" width="1" height="7" fill="#fff"/>
<rect x="484" y="377" width="4" height="6" fill="#fff"/>
<rect x="486" y="371" width="1" height="4" fill="#fff"/>
<rect x="490" y="377" width="4" height="6" fill="#fff"/>
<rect x="491" y="371" width="1" height="4" fill="#fff"/>
<rect x="496" y="377" width="4" height="6" fill="#fff"/>
<rect x="497" y="371" width="2" height="4" fill="#fff"/>
<rect x="502" y="377" width="4" height="6" fill="#fff"/>
<rect x="503" y="371" width="1" height="4" fill="#fff"/>
<rect x="503" y="371" width="1" height="7" fill="#fff"/>
<rect x="508" y="377" width="4" height="6" fill="#fff"/>
<rect x="510" y="371" width="1" height="4" fill="#fff"/>
<rect x="514" y="377" width="4" height="6" fill="#fff"/>
<rect x="515" y="371" width="2" height="4" fill="#fff"/>
<rect x="520" y="377" width="4" height="6" fill="#fff"/>
<rect x="522" y="371" width="1" height="4" fill="#fff"/>
<rect x="526" y="377" width="4" height="6" fill="#fff"/>
<rect x="527" y="371" width="1" height="4" fill="#fff"/>
<rect x="531" y="377" width="4" height="6" fill="#fff"/>
<rect x="532" y="371" width="2" height="4" fill="#fff"/>
<rect x="537" y="377" width="4" height="6" fill="#fff"/>
<rect x="538" y="371" width="1" height="4" fill="#fff"/>
<rect x="543" y="377" width="4" height="6" fill="#fff"/>
<rect x="545" y="371" width="1" height="4" fill="#fff"/>
<rect x="549" y="377" width="4" height="6" fill="#fff"/>
<rect x="550" y="371" width="2" height="4" fill="#fff"/>
<rect x="555" y="377" width="4" height="6" fill="#fff"/>
<rect x="557" y="371" width="1" height="4" fill="#fff"/>
<rect x="561" y="377" width="4" height="6" fill="#fff"/>
<rect x="562" y="371" width="1" height="4" fill="#fff"/>
<rect x="567" y="377" width="4" height="6" fill="#fff"/>
<rect x="568" y="371" width="2" height="4" fill="#fff"/>
<rect x="573" y="377" width="4" height="6" fill="#fff"/>
<rect x="574" y="371" width="1" height="4" fill="#fff"/>
<rect x="574" y="371" width="1" height="7" fill="#fff"/>
<rect x="579" y="377" width="4" height="6" fill="#fff"/>
<rect x="581" y="371" width="1" height="4" fill="#fff"/>
<rect x="584" y="377" width="4" height="6" fill="#fff"/>
<rect x="585" y="371" width="2" height="4" fill="#fff"/>
<rect x="590" y="377" width="4" height="6" fill="#fff"/>
<rect x="592" y="371" width="1" height="4" fill="#fff"/>
<rect x="596" y="377" width="4" height="6" fill="#fff"/>
<rect x="597" y="371" width="1" height="4" fill="#fff"/>
<rect x="602" y="377" width="4" height="6" fill="#fff"/>
<rect x="603" y="371" width="2" height="4" fill="#fff"/>
<rect x="608" y="377" width="4" height="6" fill="#fff"/>
<rect x="609" y="371" width="1" height="4" fill="#fff"/>
<rect x="415" y="388" width="226" height="19" fill="#000"/>
<rect x="416" y="389" width="224" height="17" fill="#fff"/>
<rect x="416" y="395" width="6" height="1" fill="#000"/>
<rect x="416" y="402" width="6" height="1" fill="#000"/>
<rect x="422" y="389" width="4" height="16" fill="#000"/>
<rect x="426" y="393" width="3" height="1" fill="#000"/>
<rect x="428" y="393" width="1" height="3" fill="#000"/>
<rect x="428" y="395" width="6" height="1" fill="#000"/>
<rect x="433" y="389" width="1" height="7" fill="#000"/>
<rect x="433" y="393" width="3" height="1" fill="#000"/>
<rect x="435" y="393" width="1" height="10" fill="#000"/>
<rect x="426" y="402" width="10" height="1" fill="#000"/>
<rect x="633" y="395" width="7" height="1" fill="#000"/>
<rect x="633" y="402" width="7" height="1" fill="#000"/>
<rect x="629" y="389" width="4" height="16" fill="#000"/>
<rect x="619" y="393" width="3" height="1" fill="#000"/>
<rect x="621" y="389" width="1" height="8" fill="#000"/>
<rect x="621" y="396" width="6" height="1" fill="#000"/>
<rect x="626" y="393" width="1" height="4" fill="#000"/>
<rect x="626" y="393" width="4" height="1" fill="#000"/>
<rect x="619" y="393" width="1" height="11" fill="#000"/>
<rect x="619" y="403" width="11" height="1" fill="#000"/>
<rect x="440" y="390" width="175" height="14" fill="#000"/>
<rect x="443" y="397" width="4" height="6" fill="#fff"/>
<rect x="444" y="391" width="2" height="4" fill="#fff"/>
<rect x="449" y="397" width="4" height="6" fill="#fff"/>
<rect x="451" y="391" width="1" height="4" fill="#fff"/>
<rect x="455" y="397" width="4" height="6" fill="#fff"/>
<rect x="456" y="391" width="1" height="4" fill="#fff"/>
<rect x="461" y="397" width="4" height="6" fill="#fff"/>
<rect x="462" y="391" width="2" height="4" fill="#fff"/>
<rect x="462" y="391" width="1" height="7" fill="#fff"/>
<rect x="467" y="397" width="4" height="6" fill="#fff"/>
<rect x="468" y="391" width="1" height="4" fill="#fff"/>
<rect x="472" y="397" width="4" height="6" fill="#fff"/>
<rect x="474" y="391" width="1" height="4" fill="#fff"/>
<rect x="478" y="397" width="4" height="6" fill="#fff"/>
<rect x="479" y="391" width="2" height="4" fill="#fff"/>
<rect x="479" y="391" width="1" height="7" fill="#fff"/>
<rect x="484" y="397" width="4" height="6" fill="#fff"/>
<rect x="486" y="391" width="1" height="4" fill="#fff"/>
<rect x="490" y="397" width="4" height="6" fill="#fff"/>
<rect x="491" y="391" width="1" height="4" fill="#fff"/>
<rect x="496" y="397" width="4" height="6" fill="#fff"/>
<rect x="497" y="391" width="2" height="4" fill="#fff"/>
<rect x="502" y="397" width="4" height="6" fill="#fff"/>
<rect x="503" y="391" width="1" height="4" fill="#fff"/>
<rect x="503" y="391" width="1" height="7" fill="#fff"/>
<rect x="508" y="397" width="4" height="6" fill="#fff"/>
<rect x="510" y="391" width="1" height="4" fill="#fff"/>
<rect x="514" y="397" width="4" height="6" fill="#fff"/>
<rect x="515" y="391" width="2" height="4" fill="#fff"/>
<rect x="520" y="397" width="4" height="6" fill="#fff"/>
<rect x="522" y="391" width="1" height="4" fill="#fff"/>
<rect x="526" y="397" width="4" height="6" fill="#fff"/>
<rect x="527" y="391" width="1" height="4" fill="#fff"/>
<rect x="531" y="397" width="4" height="6" fill="#fff"/>
<rect x="532" y="391" width="2" height="4" fill="#fff"/>
<rect x="537" y="397" width="4" height="6" fill="#fff"/>
<rect x="538" y="391" width="1" height="4" fill="#fff"/>
<rect x="543" y="397" width="4" height="6" fill="#fff"/>
<rect x="545" y="391" width="1" height="4" fill="#fff"/>
<rect x="549" y="397" width="4" height="6" fill="#fff"/>
<rect x="550" y="391" width="2" height="4" fill="#fff"/>
<rect x="555" y="397" width="4" height="6" fill="#fff"/>
<rect x="557" y="391" width="1" height="4" fill="#fff"/>
<rect x="561" y="397" width="4" height="6" fill="#fff"/>
<rect x="562" y="391" width="1" height="4" fill="#fff"/>
<rect x="567" y="397" width="4" height="6" fill="#fff"/>
<rect x="568" y="391" width="2" height="4" fill="#fff"/>
<rect x="573" y="397" width="4" height="6" fill="#fff"/>
<rect x="574" y="391" width="1" height="4" fill="#fff"/>
<rect x="574" y="391" width="1" height="7" fill="#fff"/>
<rect x="579" y="397" width="4" height="6" fill="#fff"/>
<rect x="581" y="391" width="1" height="4" fill="#fff"/>
<rect x="584" y="397" width="4" height="6" fill="#fff"/>
<rect x="585" y="391" width="2" height="4" fill="#fff"/>
<rect x="590" y="397" width="4" height="6" fill="#fff"/>
<rect x="592" y="391" width="1" height="4" fill="#fff"/>
<rect x="596" y="397" width="4" height="6" fill="#fff"/>
<rect x="597" y="391" width="1" height="4" fill="#fff"/>
<rect x="602" y="397" width="4" height="6" fill="#fff"/>
<rect x="603" y="391" width="2" height="4" fill="#fff"/>
<rect x="608" y="397" width="4" height="6" fill="#fff"/>
<rect x="609" y="391" width="1" height="4" fill="#fff"/>
<rect x="415" y="408" width="226" height="20" fill="#000"/>
<rect x="416" y="409" width="224" height="18" fill="#fff"/>
<rect x="416" y="415" width="6" height="1" fill="#000"/>
<rect x="416" y="422" width="6" height="1" fill="#000"/>
<rect x="422" y="409" width="4" height="16" fill="#000"/>
<rect x="426" y="413" width="3" height="1" fill="#000"/>
<rect x="428" y="413" width="1" height="3" fill="#000"/>
<rect x="428" y="415" width="6" height="1" fill="#000"/>
<rect x="433" y="409" width="1" height="7" fill="#000"/>
<rect x="433" y="413" width="3" height="1" fill="#000"/>
<rect x="435" y="413" width="1" height="10" fill="#000"/>
<rect x="426" y="422" width="10" height="1" fill="#000"/>
<rect x="633" y="415" width="7" height="1" fill="#000"/>
<rect x="633" y="422" width="7" height="1" fill="#000"/>
<rect x="629" y="409" width="4" height="16" fill="#000"/>
<rect x="619" y="413" width="3" height="1" fill="#000"/>
<rect x="621" y="409" width="1" height="8" fill="#000"/>
<rect x="621" y="416" width="6" height="1" fill="#000"/>
<rect x="626" y="413" width="1" height="4" fill="#000"/>
<rect x="626" y="413" width="4" height="1" fill="#000"/>
<rect x="619" y="413" width="1" height="11" fill="#000"/>
<rect x="619" y="423" width="11" height="1" fill="#000"/>
<rect x="440" y="410" width="175" height="14" fill="#000"/>
<rect x="443" y="417" width="4" height="6" fill="#fff"/>
<rect x="444" y="411" width="2" height="4" fill="#fff"/>
<rect x="449" y="417" width="4" height="6" fill="#fff"/>
<rect x="451" y="411" width="1" height="4" fill="#fff"/>
<rect x="455" y="417" width="4" height="6" fill="#fff"/>
<rect x="456" y="411" width="1" height="4" fill="#fff"/>
<rect x="461" y="417" width="4" height="6" fill="#fff"/>
<rect x="462" y="411" width="2" height="4" fill="#fff"/>
<rect x="462" y="411" width="1" height="7" fill="#fff"/>
<rect x="467" y="417" width="4" height="6" fill="#fff"/>
<rect x="468" y="411" width="1" height="4" fill="#fff"/>
<rect x="472" y="417" width="4" height="6" fill="#fff"/>
<rect x="474" y="411" width="1" height="4" fill="#fff"/>
<rect x="478" y="417" width="4" height="6" fill="#fff"/>
<rect x="479" y="411" width="2" height="4" fill="#fff"/>
<rect x="479" y="411" width="1" height="7" fill="#fff"/>
<rect x="484" y="417" width="4" height="6" fill="#fff"/>
<rect x="486" y="411" width="1" height="4" fill="#fff"/>
<rect x="490" y="417" width="4" height="6" fill="#fff"/>
<rect x="491" y="411" width="1" height="4" fill="#fff"/>
<rect x="496" y="417" width="4" height="6" fill="#fff"/>
<rect x="497" y="411" width="2" height="4" fill="#fff"/>
<rect x="502" y="417" width="4" height="6" fill="#fff"/>
<rect x="503" y="411" width="1" height="4" fill="#fff"/>
<rect x="503" y="411" width="1" height="7" fill="#fff"/>
<rect x="508" y="417" width="4" height="6" fill="#fff"/>
<rect x="510" y="411" width="1" height="4" fill="#fff"/>
<rect x="514" y="417" width="4" height="6" fill="#fff"/>
<rect x="515" y="411" width="2" height="4" fill="#fff"/>
<rect x="520" y="417" width="4" height="6" fill="#fff"/>
<rect x="522" y="411" width="1" height="4" fill="#fff"/>
<rect x="526" y="417" width="4" height="6" fill="#fff"/>
<rect x="527" y="411" width="1" height="4" fill="#fff"/>
<rect x="531" y="417" width="4" height="6" fill="#fff"/>
<rect x="532" y="411" width="2" height="4" fill="#fff"/>
<rect x="537" y="417" width="4" height="6" fill="#fff"/>
<rect x="538" y="411" width="1" height="4" fill="#fff"/>
<rect x="543" y="417" width="4" height="6" fill="#fff"/>
<rect x="545" y="411" width="1" height="4" fill="#fff"/>
<rect x="549" y="417" width="4" height="6" fill="#fff"/>
<rect x="550" y="411" width="2" height="4" fill="#fff"/>
<rect x="555" y="417" width="4" height="6" fill="#fff"/>
<rect x="557" y="411" width="1" height="4" fill="#fff"/>
<rect x="561" y="417" width="4" height="6" fill="#fff"/>
<rect x="562" y="411" width="1" height="4" fill="#fff"/>
<rect x="567" y="417" width="4" height="6" fill="#fff"/>
<rect x="568" y="411" width="2" height="4" fill="#fff"/>
<rect x="573" y="417" width="4" height="6" fill="#fff"/>
<rect x="574" y="411" width="1" height="4" fill="#fff"/>
<rect x="574" y="411" width="1" height="7" fill="#fff"/>
<rect x="579" y="417" width="4" height="6" fill="#fff"/>
<rect x="581" y="411" width="1" height="4" fill="#fff"/>
<rect x="584" y="417" width="4" height="6" fill="#fff"/>
<rect x="585" y="411" width="2" height="4" fill="#fff"/>
<rect x="590" y="417" width="4" height="6" fill="#fff"/>
<rect x="592" y="411" width="1" height="4" fill="#fff"/>
<rect x="596" y="417" width="4" height="6" fill="#fff"/>
<rect x="597" y="411" width="1" height="4" fill="#fff"/>
<rect x="602" y="417" width="4" height="6" fill="#fff"/>
<rect x="603" y="411" width="2" height="4" fill="#fff"/>
<rect x="608" y="417" width="4" height="6" fill="#fff"/>
<rect x="609" y="411" width="1" height="4" fill="#fff"/>
<rect x="415" y="429" width="226" height="19" fill="#000"/>
<rect x="416" y="430" width="224" height="17" fill="#fff"/>
<rect x="416" y="436" width="6" height="1" fill="#000"/>
<rect x="416" y="443" width="6" height="1" fill="#000"/>
<rect x="422" y="430" width="4" height="16" fill="#000"/>
<rect x="426" y="434" width="3" height="1" fill="#000"/>
<rect x="428" y="434" width="1" height="3" fill="#000"/>
<rect x="428" y="436" width="6" height="1" fill="#000"/>
<rect x="433" y="430" width="1" height="7" fill="#000"/>
<rect x="433" y="434" width="3" height="1" fill="#000"/>
<rect x="435" y="434" width="1" height="10" fill="#000"/>
<rect x="426" y="443" width="10" height="1" fill="#000"/>
<rect x="633" y="436" width="7" height="1" fill="#000"/>
<rect x="633" y="443" width="7" height="1" fill="#000"/>
<rect x="629" y="430" width="4" height="16" fill="#000"/>
<rect x="619" y="434" width="3" height="1" fill="#000"/>
<rect x="621" y="430" width="1" height="8" fill="#000"/>
<rect x="621" y="437" width="6" height="1" fill="#000"/>
<rect x="626" y="434" width="1" height="4" fill="#000"/>
<rect x="626" y="434" width="4" height="1" fill="#000"/>
<rect x="619" y="434" width="1" height="11" fill="#000"/>
<rect x="619" y="444" width="11" height="1" fill="#000"/>
<rect x="440" y="431" width="175" height="14" fill="#000"/>
<rect x="443" y="438" width="4" height="6" fill="#fff"/>
<rect x="444" y="432" width="2" height="4" fill="#fff"/>
<rect x="449" y="438" width="4" height="6" fill="#fff"/>
<rect x="451" y="432" width="1" height="4" fill="#fff"/>
<rect x="455" y="438" width="4" height="6" fill="#fff"/>
<rect x="456" y="432" width="1" height="4" fill="#fff"/>
<rect x="461" y="438" width="4" height="6" fill="#fff"/>
<rect x="462" y="432" width="2" height="4" fill="#fff"/>
<rect x="462" y="432" width="1" height="7" fill="#fff"/>
<rect x="467" y="438" width="4" height="6" fill="#fff"/>
<rect x="468" y="432" width="1" height="4" fill="#fff"/>
<rect x="472" y="438" width="4" height="6" fill="#fff"/>
<rect x="474" y="432" width="1" height="4" fill="#fff"/>
<rect x="478" y="438" width="4" height="6" fill="#fff"/>
<rect x="479" y="432" width="2" height="4" fill="#fff"/>
<rect x="479" y="432" width="1" height="7" fill="#fff"/>
<rect x="484" y="438" width="4" height="6" fill="#fff"/>
<rect x="486" y="432" width="1" height="4" fill="#fff"/>
<rect x="490" y="438" width="4" height="6" fill="#fff"/>
<rect x="491" y="432" width="1" height="4" fill="#fff"/>
<rect x="496" y="438" width="4" height="6" fill="#fff"/>
<rect x="497" y="432" width="2" height="4" fill="#fff"/>
<rect x="502" y="438" width="4" height="6" fill="#fff"/>
<rect x="503" y="432" width="1" height="4" fill="#fff"/>
<rect x="503" y="432" width="1" height="7" fill="#fff"/>
<rect x="508" y="438" width="4" height="6" fill="#fff"/>
<rect x="510" y="432" width="1" height="4" fill="#fff"/>
<rect x="514" y="438" width="4" height="6" fill="#fff"/>
<rect x="515" y="432" width="2" height="4" fill="#fff"/>
<rect x="520" y="438" width="4" height="6" fill="#fff"/>
<rect x="522" y="432" width="1" height="4" fill="#fff"/>
<rect x="526" y="438" width="4" height="6" fill="#fff"/>
<rect x="527" y="432" width="1" height="4" fill="#fff"/>
<rect x="531" y="438" width="4" height="6" fill="#fff"/>
<rect x="532" y="432" width="2" height="4" fill="#fff"/>
<rect x="537" y="438" width="4" height="6" fill="#fff"/>
<rect x="538" y="432" width="1" height="4" fill="#fff"/>
<rect x="543" y="438" width="4" height="6" fill="#fff"/>
<rect x="545" y="432" width="1" height="4" fill="#fff"/>
<rect x="549" y="438" width="4" height="6" fill="#fff"/>
<rect x="550" y="432" width="2" height="4" fill="#fff"/>
<rect x="555" y="438" width="4" height="6" fill="#fff"/>
<rect x="557" y="432" width="1" height="4" fill="#fff"/>
<rect x="561" y="438" width="4" height="6" fill="#fff"/>
<rect x="562" y="432" width="1" height="4" fill="#fff"/>
<rect x="567" y="438" width="4" height="6" fill="#fff"/>
<rect x="568" y="432" width="2" height="4" fill="#fff"/>
<rect x="573" y="438" width="4" height="6" fill="#fff"/>
<rect x="574" y="432" width="1" height="4" fill="#fff"/>
<rect x="574" y="432" width="1" height="7" fill="#fff"/>
<rect x="579" y="438" width="4" height="6" fill="#fff"/>
<rect x="581" y="432" width="1" height="4" fill="#fff"/>
<rect x="584" y="438" width="4" height="6" fill="#fff"/>
<rect x="585" y="432" width="2" height="4" fill="#fff"/>
<rect x="590" y="438" width="4" height="6" fill="#fff"/>
<rect x="592" y="432" width="1" height="4" fill="#fff"/>
<rect x="596" y="438" width="4" height="6" fill="#fff"/>
<rect x="597" y="432" width="1" height="4" fill="#fff"/>
<rect x="602" y="438" width="4" height="6" fill="#fff"/>
<rect x="603" y="432" width="2" height="4" fill="#fff"/>
<rect x="608" y="438" width="4" height="6" fill="#fff"/>
<rect x="609" y="432" width="1" height="4" fill="#fff"/>
<rect x="415" y="449" width="226" height="19" fill="#000"/>
<rect x="416" y="450" width="224" height="17" fill="#fff"/>
<rect x="416" y="456" width="6" height="1" fill="#000"/>
<rect x="416" y="463" width="6" height="1" fill="#000"/>
<rect x="422" y="450" width="4" height="16" fill="#000"/>
<rect x="426" y="454" width="3" height="1" fill="#000"/>
<rect x="428" y="454" width="1" height="3" fill="#000"/>
<rect x="428" y="456" width="6" height="1" fill="#000"/>
<rect x="433" y="450" width="1" height="7" fill="#000"/>
<rect x="433" y="454" width="3" height="1" fill="#000"/>
<rect x="435" y="454" width="1" height="10" fill="#000"/>
<rect x="426" y="463" width="10" height="1" fill="#000"/>
<rect x="633" y="456" width="7" height="1" fill="#000"/>
<rect x="633" y="463" width="7" height="1" fill="#000"/>
<rect x="629" y="450" width="4" height="16" fill="#000"/>
<rect x="619" y="454" width="3" height="1" fill="#000"/>
<rect x="621" y="450" width="1" height="8" fill="#000"/>
<rect x="621" y="457" width="6" height="1" fill="#000"/>
<rect x="626" y="454" width="1" height="4" fill="#000"/>
<rect x="626" y="454" width="4" height="1" fill="#000"/>
<rect x="619" y="454" width="1" height="11" fill="#000"/>
<rect x="619" y="464" width="11" height="1" fill="#000"/>
<rect x="440" y="451" width="175" height="14" fill="#000"/>
<rect x="443" y="458" width="4" height="6" fill="#fff"/>
<rect x="444" y="452" width="2" height="4" fill="#fff"/>
<rect x="449" y="458" width="4" height="6" fill="#fff"/>
<rect x="451" y="452" width="1" height="4" fill="#fff"/>
<rect x="455" y="458" width="4" height="6" fill="#fff"/>
<rect x="456" y="452" width="1" height="4" fill="#fff"/>
<rect x="461" y="458" width="4" height="6" fill="#fff"/>
<rect x="462" y="452" width="2" height="4" fill="#fff"/>
<rect x="462" y="452" width="1" height="7" fill="#fff"/>
<rect x="467" y="458" width="4" height="6" fill="#fff"/>
<rect x="468" y="452" width="1" height="4" fill="#fff"/>
<rect x="472" y="458" width="4" height="6" fill="#fff"/>
<rect x="474" y="452" width="1" height="4" fill="#fff"/>
<rect x="478" y="458" width="4" height="6" fill="#fff"/>
<rect x="479" y="452" width="2" height="4" fill="#fff"/>
<rect x="479" y="452" width="1" height="7" fill="#fff"/>
<rect x="484" y="458" width="4" height="6" fill="#fff"/>
<rect x="486" y="452" width="1" height="4" fill="#fff"/>
<rect x="490" y="458" width="4" height="6" fill="#fff"/>
<rect x="491" y="452" width="1" height="4" fill="#fff"/>
<rect x="496" y="458" width="4" height="6" fill="#fff"/>
<rect x="497" y="452" width="2" height="4" fill="#fff"/>
<rect x="502" y="458" width="4" height="6" fill="#fff"/>
<rect x="503" y="452" width="1" height="4" fill="#fff"/>
<rect x="503" y="452" width="1" height="7" fill="#fff"/>
<rect x="508" y="458" width="4" height="6" fill="#fff"/>
<rect x="510" y="452" width="1" height="4" fill="#fff"/>
<rect x="514" y="458" width="4" height="6" fill="#fff"/>
<rect x="515" y="452" width="2" height="4" fill="#fff"/>
<rect x="520" y="458" width="4" height="6" fill="#fff"/>
<rect x="522" y="452" width="1" height="4" fill="#fff"/>
<rect x="526" y="458" width="4" height="6" fill="#fff"/>
<rect x="527" y="452" width="1" height="4" fill="#fff"/>
<rect x="531" y="458" width="4" height="6" fill="#fff"/>
<rect x="532" y="452" width="2" height="4" fill="#fff"/>
<rect x="537" y="458" width="4" height="6" fill="#fff"/>
<rect x="538" y="452" width="1" height="4" fill="#fff"/>
<rect x="543" y="458" width="4" height="6" fill="#fff"/>
<rect x="545" y="452" width="1" height="4" fill="#fff"/>
<rect x="549" y="458" width="4" height="6" fill="#fff"/>
<rect x="550" y="452" width="2" height="4" fill="#fff"/>
<rect x="555" y="458" width="4" height="6" fill="#fff"/>
<rect x="557" y="452" width="1" height="4" fill="#fff"/>
<rect x="561" y="458" width="4" height="6" fill="#fff"/>
<rect x="562" y="452" width="1" height="4" fill="#fff"/>
<rect x="567" y="458" width="4" height="6" fill="#fff"/>
<rect x="568" y="452" width="2" height="4" fill="#fff"/>
<rect x="573" y="458" width="4" height="6" fill="#fff"/>
<rect x="574" y="452" width="1" height="4" fill="#fff"/>
<rect x="574" y="452" width="1" height="7" fill="#fff"/>
<rect x="579" y="458" width="4" height="6" fill="#fff"/>
<rect x="581" y="452" width="1" height="4" fill="#fff"/>
<rect x="584" y="458" width="4" height="6" fill="#fff"/>
<rect x="585" y="452" width="2" height="4" fill="#fff"/>
<rect x="590" y="458" width="4" height="6" fill="#fff"/>
<rect x="592" y="452" width="1" height="4" fill="#fff"/>
<rect x="596" y="458" width="4" height="6" fill="#fff"/>
<rect x="597" y="452" width="1" height="4" fill="#fff"/>
<rect x="602" y="458" width="4" height="6" fill="#fff"/>
<rect x="603" y="452" width="2" height="4" fill="#fff"/>
<rect x="608" y="458" width="4" height="6" fill="#fff"/>
<rect x="609" y="452" width="1" height="4" fill="#fff"/>
<rect x="415" y="469" width="226" height="19" fill="#000"/>
<rect x="416" y="470" width="224" height="17" fill="#fff"/>
<rect x="416" y="476" width="6" height="1" fill="#000"/>
<rect x="416" y="483" width="6" height="1" fill="#000"/>
<rect x="422" y="470" width="4" height="16" fill="#000"/>
<rect x="426" y="474" width="3" height="1" fill="#000"/>
<rect x="428" y="474" width="1" height="3" fill="#000"/>
<rect x="428" y="476" width="6" height="1" fill="#000"/>
<rect x="433" y="470" width="1" height="7" fill="#000"/>
<rect x="433" y="474" width="3" height="1" fill="#000"/>
<rect x="435" y="474" width="1" height="10" fill="#000"/>
<rect x="426" y="483" width="10" height="1" fill="#000"/>
<rect x="633" y="476" width="7" height="1" fill="#000"/>
<rect x="633" y="483" width="7" height="1" fill="#000"/>
<rect x="629" y="470" width="4" height="16" fill="#000"/>
<rect x="619" y="474" width="3" height="1" fill="#000"/>
<rect x="621" y="470" width="1" height="8" fill="#000"/>
<rect x="621" y="477" width="6" height="1" fill="#000"/>
<rect x="626" y="474" width="1" height="4" fill="#000"/>
<rect x="626" y="474" width="4" height="1" fill="#000"/>
<rect x="619" y="474" width="1" height="11" fill="#000"/>
<rect x="619" y="484" width="11" height="1" fill="#000"/>
<rect x="440" y="471" width="175" height="14" fill="#000"/>
<rect x="443" y="478" width="4" height="6" fill="#fff"/>
<rect x="444" y="472" width="2" height="4" fill="#fff"/>
<rect x="449" y="478" width="4" height="6" fill="#fff"/>
<rect x="451" y="472" width="1" height="4" fill="#fff"/>
<rect x="455" y="478" width="4" height="6" fill="#fff"/>
<rect x="456" y="472" width="1" height="4" fill="#fff"/>
<rect x="461" y="478" width="4" height="6" fill="#fff"/>
<rect x="462" y="472" width="2" height="4" fill="#fff"/>
<rect x="462" y="472" width="1" height="7" fill="#fff"/>
<rect x="467" y="478" width="4" height="6" fill="#fff"/>
<rect x="468" y="472" width="1" height="4" fill="#fff"/>
<rect x="472" y="478" width="4" height="6" fill="#fff"/>
<rect x="474" y="472" width="1" height="4" fill="#fff"/>
<rect x="478" y="478" width="4" height="6" fill="#fff"/>
<rect x="479" y="472" width="2" height="4" fill="#fff"/>
<rect x="479" y="472" width="1" height="7" fill="#fff"/>
<rect x="484" y="478" width="4" height="6" fill="#fff"/>
<rect x="486" y="472" width="1" height="4" fill="#fff"/>
<rect x="490" y="478" width="4" height="6" fill="#fff"/>
<rect x="491" y="472" width="1" height="4" fill="#fff"/>
<rect x="496" y="478" width="4" height="6" fill="#fff"/>
<rect x="497" y="472" width="2" height="4" fill="#fff"/>
<rect x="502" y="478" width="4" height="6" fill="#fff"/>
<rect x="503" y="472" width="1" height="4" fill="#fff"/>
<rect x="503" y="472" width="1" height="7" fill="#fff"/>
<rect x="508" y="478" width="4" height="6" fill="#fff"/>
<rect x="510" y="472" width="1" height="4" fill="#fff"/>
<rect x="514" y="478" width="4" height="6" fill="#fff"/>
<rect x="515" y="472" width="2" height="4" fill="#fff"/>
<rect x="520" y="478" width="4" height="6" fill="#fff"/>
<rect x="522" y="472" width="1" height="4" fill="#fff"/>
<rect x="526" y="478" width="4" height="6" fill="#fff"/>
<rect x="527" y="472" width="1" height="4" fill="#fff"/>
<rect x="531" y="478" width="4" height="6" fill="#fff"/>
<rect x="532" y="472" width="2" height="4" fill="#fff"/>
<rect x="537" y="478" width="4" height="6" fill="#fff"/>
<rect x="538" y="472" width="1" height="4" fill="#fff"/>
<rect x="543" y="478" width="4" height="6" fill="#fff"/>
<rect x="545" y="472" width="1" height="4" fill="#fff"/>
<rect x="549" y="478" width="4" height="6" fill="#fff"/>
<rect x="550" y="472" width="2" height="4" fill="#fff"/>
<rect x="555" y="478" width="4" height="6" fill="#fff"/>
<rect x="557" y="472" width="1" height="4" fill="#fff"/>
<rect x="561" y="478" width="4" height="6" fill="#fff"/>
<rect x="562" y="472" width="1" height="4" fill="#fff"/>
<rect x="567" y="478" width="4" height="6" fill="#fff"/>
<rect x="568" y="472" width="2" height="4" fill="#fff"/>
<rect x="573" y="478" width="4" height="6" fill="#fff"/>
<rect x="574" y="472" width="1" height="4" fill="#fff"/>
<rect x="574" y="472" width="1" height="7" fill="#fff"/>
<rect x="579" y="478" width="4" height="6" fill="#fff"/>
<rect x="581" y="472" width="1" height="4" fill="#fff"/>
<rect x="584" y="478" width="4" height="6" fill="#fff"/>
<rect x="585" y="472" width="2" height="4" fill="#fff"/>
<rect x="590" y="478" width="4" height="6" fill="#fff"/>
<rect x="592" y="472" width="1" height="4" fill="#fff"/>
<rect x="596" y="478" width="4" height="6" fill="#fff"/>
<rect x="597" y="472" width="1" height="4" fill="#fff"/>
<rect x="602" y="478" width="4" height="6" fill="#fff"/>
<rect x="603" y="472" width="2" height="4" fill="#fff"/>
<rect x="608" y="478" width="4" height="6" fill="#fff"/>
<rect x="609" y="472" width="1" height="4" fill="#fff"/>
<rect x="126" y="450" width="25" height="84" fill="#000"/>
<rect x="131" y="456" width="15" height="72" fill="#fff"/>
<polygon points="135.5,450 141.5,450 138.5,453" fill="#fff"/>
<polygon points="128,453 132,453 128,457" fill="#fff"/>
<polygon points="149,453 145,453 149,457" fill="#fff"/>
<polygon points="128,532 132,532 128,528" fill="#fff"/>
<polygon points="149,532 145,532 149,528" fill="#fff"/>
<rect x="131" y="456" width="1" height="1" fill="#000"/>
<rect x="145" y="456" width="1" height="1" fill="#000"/>
<rect x="131" y="527" width="2" height="1" fill="#000"/>
<rect x="144" y="527" width="2" height="1" fill="#000"/>
<rect x="131" y="526" width="1" height="1" fill="#000"/>
<rect x="145" y="526" width="1" height="1" fill="#000"/>
<rect x="128" y="458" width="1" height="3" fill="#fff"/>
<rect x="148" y="458" width="1" height="3" fill="#fff"/>
<rect x="128" y="464" width="1" height="3" fill="#fff"/>
<rect x="148" y="464" width="1" height="3" fill="#fff"/>
<rect x="128" y="470" width="1" height="3" fill="#fff"/>
<rect x="148" y="470" width="1" height="3" fill="#fff"/>
<rect x="128" y="476" width="1" height="3" fill="#fff"/>
<rect x="148" y="476" width="1" height="3" fill="#fff"/>
<rect x="128" y="482" width="1" height="3" fill="#fff"/>
<rect x="148" y="482" width="1" height="3" fill="#fff"/>
<rect x="128" y="488" width="1" height="3" fill="#fff"/>
<rect x="148" y="488" width="1" height="3" fill="#fff"/>
<rect x="128" y="494" width="1" height="3" fill="#fff"/>
<rect x="148" y="494" width="1" height="3" fill="#fff"/>
<rect x="128" y="500" width="1" height="3" fill="#fff"/>
<rect x="148" y="500" width="1" height="3" fill="#fff"/>
<rect x="128" y="506" width="1" height="3" fill="#fff"/>
<rect x="148" y="506" width="1" height="3" fill="#fff"/>
<rect x="128" y="512" width="1" height="3" fill="#fff"/>
<rect x="148" y="512" width="1" height="3" fill="#fff"/>
<rect x="128" y="518" width="1" height="3" fill="#fff"/>
<rect x="148" y="518" width="1" height="3" fill="#fff"/>
<rect x="128" y="524" width="1" height="3" fill="#fff"/>
<rect x="148" y="524" width="1" height="3" fill="#fff"/>
<text transform="scale(0.72,1)" font-size="13" x="186.57 187.06 186.02 186.02 186.58" y="466.0 481.1 496.2 511.3 526.4">BANK0</text>
<rect x="152" y="450" width="25" height="84" fill="#000"/>
<rect x="157" y="456" width="15" height="72" fill="#fff"/>
<polygon points="161.5,450 167.5,450 164.5,453" fill="#fff"/>
<polygon points="154,453 158,453 154,457" fill="#fff"/>
<polygon points="175,453 171,453 175,457" fill="#fff"/>
<polygon points="154,532 158,532 154,528" fill="#fff"/>
<polygon points="175,532 171,532 175,528" fill="#fff"/>
<rect x="157" y="456" width="1" height="1" fill="#000"/>
<rect x="171" y="456" width="1" height="1" fill="#000"/>
<rect x="157" y="527" width="2" height="1" fill="#000"/>
<rect x="170" y="527" width="2" height="1" fill="#000"/>
<rect x="157" y="526" width="1" height="1" fill="#000"/>
<rect x="171" y="526" width="1" height="1" fill="#000"/>
<rect x="154" y="458" width="1" height="3" fill="#fff"/>
<rect x="174" y="458" width="1" height="3" fill="#fff"/>
<rect x="154" y="464" width="1" height="3" fill="#fff"/>
<rect x="174" y="464" width="1" height="3" fill="#fff"/>
<rect x="154" y="470" width="1" height="3" fill="#fff"/>
<rect x="174" y="470" width="1" height="3" fill="#fff"/>
<rect x="154" y="476" width="1" height="3" fill="#fff"/>
<rect x="174" y="476" width="1" height="3" fill="#fff"/>
<rect x="154" y="482" width="1" height="3" fill="#fff"/>
<rect x="174" y="482" width="1" height="3" fill="#fff"/>
<rect x="154" y="488" width="1" height="3" fill="#fff"/>
<rect x="174" y="488" width="1" height="3" fill="#fff"/>
<rect x="154" y="494" width="1" height="3" fill="#fff"/>
<rect x="174" y="494" width="1" height="3" fill="#fff"/>
<rect x="154" y="500" width="1" height="3" fill="#fff"/>
<rect x="174" y="500" width="1" height="3" fill="#fff"/>
<rect x="154" y="506" width="1" height="3" fill="#fff"/>
<rect x="174" y="506" width="1" height="3" fill="#fff"/>
<rect x="154" y="512" width="1" height="3" fill="#fff"/>
<rect x="174" y="512" width="1" height="3" fill="#fff"/>
<rect x="154" y="518" width="1" height="3" fill="#fff"/>
<rect x="174" y="518" width="1" height="3" fill="#fff"/>
<rect x="154" y="524" width="1" height="3" fill="#fff"/>
<rect x="174" y="524" width="1" height="3" fill="#fff"/>
<text transform="scale(0.72,1)" font-size="13" x="222.68 223.17 222.13 222.13 222.20" y="466.0 481.1 496.2 511.3 526.4">BANK1</text>
<rect x="178" y="450" width="25" height="84" fill="#000"/>
<rect x="183" y="456" width="15" height="72" fill="#fff"/>
<polygon points="187.5,450 193.5,450 190.5,453" fill="#fff"/>
<polygon points="180,453 184,453 180,457" fill="#fff"/>
<polygon points="201,453 197,453 201,457" fill="#fff"/>
<polygon points="180,532 184,532 180,528" fill="#fff"/>
<polygon points="201,532 197,532 201,528" fill="#fff"/>
<rect x="183" y="456" width="1" height="1" fill="#000"/>
<rect x="197" y="456" width="1" height="1" fill="#000"/>
<rect x="183" y="527" width="2" height="1" fill="#000"/>
<rect x="196" y="527" width="2" height="1" fill="#000"/>
<rect x="183" y="526" width="1" height="1" fill="#000"/>
<rect x="197" y="526" width="1" height="1" fill="#000"/>
<rect x="180" y="458" width="1" height="3" fill="#fff"/>
<rect x="200" y="458" width="1" height="3" fill="#fff"/>
<rect x="180" y="464" width="1" height="3" fill="#fff"/>
<rect x="200" y="464" width="1" height="3" fill="#fff"/>
<rect x="180" y="470" width="1" height="3" fill="#fff"/>
<rect x="200" y="470" width="1" height="3" fill="#fff"/>
<rect x="180" y="476" width="1" height="3" fill="#fff"/>
<rect x="200" y="476" width="1" height="3" fill="#fff"/>
<rect x="180" y="482" width="1" height="3" fill="#fff"/>
<rect x="200" y="482" width="1" height="3" fill="#fff"/>
<rect x="180" y="488" width="1" height="3" fill="#fff"/>
<rect x="200" y="488" width="1" height="3" fill="#fff"/>
<rect x="180" y="494" width="1" height="3" fill="#fff"/>
<rect x="200" y="494" width="1" height="3" fill="#fff"/>
<rect x="180" y="500" width="1" height="3" fill="#fff"/>
<rect x="200" y="500" width="1" height="3" fill="#fff"/>
<rect x="180" y="506" width="1" height="3" fill="#fff"/>
<rect x="200" y="506" width="1" height="3" fill="#fff"/>
<rect x="180" y="512" width="1" height="3" fill="#fff"/>
<rect x="200" y="512" width="1" height="3" fill="#fff"/>
<rect x="180" y="518" width="1" height="3" fill="#fff"/>
<rect x="200" y="518" width="1" height="3" fill="#fff"/>
<rect x="180" y="524" width="1" height="3" fill="#fff"/>
<rect x="200" y="524" width="1" height="3" fill="#fff"/>
<text transform="scale(0.72,1)" font-size="13" x="258.79 259.28 258.24 258.24 258.80" y="466.0 481.1 496.2 511.3 526.4">BANK0</text>
<rect x="205" y="450" width="25" height="84" fill="#000"/>
<rect x="210" y="456" width="15" height="72" fill="#fff"/>
<polygon points="214.5,450 220.5,450 217.5,453" fill="#fff"/>
<polygon points="207,453 211,453 207,457" fill="#fff"/>
<polygon points="228,453 224,453 228,457" fill="#fff"/>
<polygon points="207,532 211,532 207,528" fill="#fff"/>
<polygon points="228,532 224,532 228,528" fill="#fff"/>
<rect x="210" y="456" width="1" height="1" fill="#000"/>
<rect x="224" y="456" width="1" height="1" fill="#000"/>
<rect x="210" y="527" width="2" height="1" fill="#000"/>
<rect x="223" y="527" width="2" height="1" fill="#000"/>
<rect x="210" y="526" width="1" height="1" fill="#000"/>
<rect x="224" y="526" width="1" height="1" fill="#000"/>
<rect x="207" y="458" width="1" height="3" fill="#fff"/>
<rect x="227" y="458" width="1" height="3" fill="#fff"/>
<rect x="207" y="464" width="1" height="3" fill="#fff"/>
<rect x="227" y="464" width="1" height="3" fill="#fff"/>
<rect x="207" y="470" width="1" height="3" fill="#fff"/>
<rect x="227" y="470" width="1" height="3" fill="#fff"/>
<rect x="207" y="476" width="1" height="3" fill="#fff"/>
<rect x="227" y="476" width="1" height="3" fill="#fff"/>
<rect x="207" y="482" width="1" height="3" fill="#fff"/>
<rect x="227" y="482" width="1" height="3" fill="#fff"/>
<rect x="207" y="488" width="1" height="3" fill="#fff"/>
<rect x="227" y="488" width="1" height="3" fill="#fff"/>
<rect x="207" y="494" width="1" height="3" fill="#fff"/>
<rect x="227" y="494" width="1" height="3" fill="#fff"/>
<rect x="207" y="500" width="1" height="3" fill="#fff"/>
<rect x="227" y="500" width="1" height="3" fill="#fff"/>
<rect x="207" y="506" width="1" height="3" fill="#fff"/>
<rect x="227" y="506" width="1" height="3" fill="#fff"/>
<rect x="207" y="512" width="1" height="3" fill="#fff"/>
<rect x="227" y="512" width="1" height="3" fill="#fff"/>
<rect x="207" y="518" width="1" height="3" fill="#fff"/>
<rect x="227" y="518" width="1" height="3" fill="#fff"/>
<rect x="207" y="524" width="1" height="3" fill="#fff"/>
<rect x="227" y="524" width="1" height="3" fill="#fff"/>
<text transform="scale(0.72,1)" font-size="13" x="296.29 296.78 295.74 295.74 295.82" y="466.0 481.1 496.2 511.3 526.4">BANK1</text>
<rect x="231" y="450" width="25" height="84" fill="#000"/>
<rect x="236" y="456" width="15" height="72" fill="#fff"/>
<polygon points="240.5,450 246.5,450 243.5,453" fill="#fff"/>
<polygon points="233,453 237,453 233,457" fill="#fff"/>
<polygon points="254,453 250,453 254,457" fill="#fff"/>
<polygon points="233,532 237,532 233,528" fill="#fff"/>
<polygon points="254,532 250,532 254,528" fill="#fff"/>
<rect x="236" y="456" width="1" height="1" fill="#000"/>
<rect x="250" y="456" width="1" height="1" fill="#000"/>
<rect x="236" y="527" width="2" height="1" fill="#000"/>
<rect x="249" y="527" width="2" height="1" fill="#000"/>
<rect x="236" y="526" width="1" height="1" fill="#000"/>
<rect x="250" y="526" width="1" height="1" fill="#000"/>
<rect x="233" y="458" width="1" height="3" fill="#fff"/>
<rect x="253" y="458" width="1" height="3" fill="#fff"/>
<rect x="233" y="464" width="1" height="3" fill="#fff"/>
<rect x="253" y="464" width="1" height="3" fill="#fff"/>
<rect x="233" y="470" width="1" height="3" fill="#fff"/>
<rect x="253" y="470" width="1" height="3" fill="#fff"/>
<rect x="233" y="476" width="1" height="3" fill="#fff"/>
<rect x="253" y="476" width="1" height="3" fill="#fff"/>
<rect x="233" y="482" width="1" height="3" fill="#fff"/>
<rect x="253" y="482" width="1" height="3" fill="#fff"/>
<rect x="233" y="488" width="1" height="3" fill="#fff"/>
<rect x="253" y="488" width="1" height="3" fill="#fff"/>
<rect x="233" y="494" width="1" height="3" fill="#fff"/>
<rect x="253" y="494" width="1" height="3" fill="#fff"/>
<rect x="233" y="500" width="1" height="3" fill="#fff"/>
<rect x="253" y="500" width="1" height="3" fill="#fff"/>
<rect x="233" y="506" width="1" height="3" fill="#fff"/>
<rect x="253" y="506" width="1" height="3" fill="#fff"/>
<rect x="233" y="512" width="1" height="3" fill="#fff"/>
<rect x="253" y="512" width="1" height="3" fill="#fff"/>
<rect x="233" y="518" width="1" height="3" fill="#fff"/>
<rect x="253" y="518" width="1" height="3" fill="#fff"/>
<rect x="233" y="524" width="1" height="3" fill="#fff"/>
<rect x="253" y="524" width="1" height="3" fill="#fff"/>
<text transform="scale(0.72,1)" font-size="13" x="332.41 332.89 331.85 331.85 332.41" y="466.0 481.1 496.2 511.3 526.4">BANK0</text>
<rect x="321" y="450" width="25" height="84" fill="#000"/>
<rect x="326" y="456" width="15" height="72" fill="#fff"/>
<polygon points="330.5,450 336.5,450 333.5,453" fill="#fff"/>
<polygon points="323,453 327,453 323,457" fill="#fff"/>
<polygon points="344,453 340,453 344,457" fill="#fff"/>
<polygon points="323,532 327,532 323,528" fill="#fff"/>
<polygon points="344,532 340,532 344,528" fill="#fff"/>
<rect x="326" y="456" width="1" height="1" fill="#000"/>
<rect x="340" y="456" width="1" height="1" fill="#000"/>
<rect x="326" y="527" width="2" height="1" fill="#000"/>
<rect x="339" y="527" width="2" height="1" fill="#000"/>
<rect x="326" y="526" width="1" height="1" fill="#000"/>
<rect x="340" y="526" width="1" height="1" fill="#000"/>
<rect x="323" y="458" width="1" height="3" fill="#fff"/>
<rect x="343" y="458" width="1" height="3" fill="#fff"/>
<rect x="323" y="464" width="1" height="3" fill="#fff"/>
<rect x="343" y="464" width="1" height="3" fill="#fff"/>
<rect x="323" y="470" width="1" height="3" fill="#fff"/>
<rect x="343" y="470" width="1" height="3" fill="#fff"/>
<rect x="323" y="476" width="1" height="3" fill="#fff"/>
<rect x="343" y="476" width="1" height="3" fill="#fff"/>
<rect x="323" y="482" width="1" height="3" fill="#fff"/>
<rect x="343" y="482" width="1" height="3" fill="#fff"/>
<rect x="323" y="488" width="1" height="3" fill="#fff"/>
<rect x="343" y="488" width="1" height="3" fill="#fff"/>
<rect x="323" y="494" width="1" height="3" fill="#fff"/>
<rect x="343" y="494" width="1" height="3" fill="#fff"/>
<rect x="323" y="500" width="1" height="3" fill="#fff"/>
<rect x="343" y="500" width="1" height="3" fill="#fff"/>
<rect x="323" y="506" width="1" height="3" fill="#fff"/>
<rect x="343" y="506" width="1" height="3" fill="#fff"/>
<rect x="323" y="512" width="1" height="3" fill="#fff"/>
<rect x="343" y="512" width="1" height="3" fill="#fff"/>
<rect x="323" y="518" width="1" height="3" fill="#fff"/>
<rect x="343" y="518" width="1" height="3" fill="#fff"/>
<rect x="323" y="524" width="1" height="3" fill="#fff"/>
<rect x="343" y="524" width="1" height="3" fill="#fff"/>
<text transform="scale(0.72,1)" font-size="13" x="457.41 457.89 456.85 456.85 456.93" y="466.0 481.1 496.2 511.3 526.4">BANK1</text>
<rect x="348" y="450" width="25" height="84" fill="#000"/>
<rect x="353" y="456" width="15" height="72" fill="#fff"/>
<polygon points="357.5,450 363.5,450 360.5,453" fill="#fff"/>
<polygon points="350,453 354,453 350,457" fill="#fff"/>
<polygon points="371,453 367,453 371,457" fill="#fff"/>
<polygon points="350,532 354,532 350,528" fill="#fff"/>
<polygon points="371,532 367,532 371,528" fill="#fff"/>
<rect x="353" y="456" width="1" height="1" fill="#000"/>
<rect x="367" y="456" width="1" height="1" fill="#000"/>
<rect x="353" y="527" width="2" height="1" fill="#000"/>
<rect x="366" y="527" width="2" height="1" fill="#000"/>
<rect x="353" y="526" width="1" height="1" fill="#000"/>
<rect x="367" y="526" width="1" height="1" fill="#000"/>
<rect x="350" y="458" width="1" height="3" fill="#fff"/>
<rect x="370" y="458" width="1" height="3" fill="#fff"/>
<rect x="350" y="464" width="1" height="3" fill="#fff"/>
<rect x="370" y="464" width="1" height="3" fill="#fff"/>
<rect x="350" y="470" width="1" height="3" fill="#fff"/>
<rect x="370" y="470" width="1" height="3" fill="#fff"/>
<rect x="350" y="476" width="1" height="3" fill="#fff"/>
<rect x="370" y="476" width="1" height="3" fill="#fff"/>
<rect x="350" y="482" width="1" height="3" fill="#fff"/>
<rect x="370" y="482" width="1" height="3" fill="#fff"/>
<rect x="350" y="488" width="1" height="3" fill="#fff"/>
<rect x="370" y="488" width="1" height="3" fill="#fff"/>
<rect x="350" y="494" width="1" height="3" fill="#fff"/>
<rect x="370" y="494" width="1" height="3" fill="#fff"/>
<rect x="350" y="500" width="1" height="3" fill="#fff"/>
<rect x="370" y="500" width="1" height="3" fill="#fff"/>
<rect x="350" y="506" width="1" height="3" fill="#fff"/>
<rect x="370" y="506" width="1" height="3" fill="#fff"/>
<rect x="350" y="512" width="1" height="3" fill="#fff"/>
<rect x="370" y="512" width="1" height="3" fill="#fff"/>
<rect x="350" y="518" width="1" height="3" fill="#fff"/>
<rect x="370" y="518" width="1" height="3" fill="#fff"/>
<rect x="350" y="524" width="1" height="3" fill="#fff"/>
<rect x="370" y="524" width="1" height="3" fill="#fff"/>
<text transform="scale(0.72,1)" font-size="13" x="494.91 495.39 494.35 494.35 494.91" y="466.0 481.1 496.2 511.3 526.4">BANK0</text>
<rect x="374" y="450" width="25" height="84" fill="#000"/>
<rect x="379" y="456" width="15" height="72" fill="#fff"/>
<polygon points="383.5,450 389.5,450 386.5,453" fill="#fff"/>
<polygon points="376,453 380,453 376,457" fill="#fff"/>
<polygon points="397,453 393,453 397,457" fill="#fff"/>
<polygon points="376,532 380,532 376,528" fill="#fff"/>
<polygon points="397,532 393,532 397,528" fill="#fff"/>
<rect x="379" y="456" width="1" height="1" fill="#000"/>
<rect x="393" y="456" width="1" height="1" fill="#000"/>
<rect x="379" y="527" width="2" height="1" fill="#000"/>
<rect x="392" y="527" width="2" height="1" fill="#000"/>
<rect x="379" y="526" width="1" height="1" fill="#000"/>
<rect x="393" y="526" width="1" height="1" fill="#000"/>
<rect x="376" y="458" width="1" height="3" fill="#fff"/>
<rect x="396" y="458" width="1" height="3" fill="#fff"/>
<rect x="376" y="464" width="1" height="3" fill="#fff"/>
<rect x="396" y="464" width="1" height="3" fill="#fff"/>
<rect x="376" y="470" width="1" height="3" fill="#fff"/>
<rect x="396" y="470" width="1" height="3" fill="#fff"/>
<rect x="376" y="476" width="1" height="3" fill="#fff"/>
<rect x="396" y="476" width="1" height="3" fill="#fff"/>
<rect x="376" y="482" width="1" height="3" fill="#fff"/>
<rect x="396" y="482" width="1" height="3" fill="#fff"/>
<rect x="376" y="488" width="1" height="3" fill="#fff"/>
<rect x="396" y="488" width="1" height="3" fill="#fff"/>
<rect x="376" y="494" width="1" height="3" fill="#fff"/>
<rect x="396" y="494" width="1" height="3" fill="#fff"/>
<rect x="376" y="500" width="1" height="3" fill="#fff"/>
<rect x="396" y="500" width="1" height="3" fill="#fff"/>
<rect x="376" y="506" width="1" height="3" fill="#fff"/>
<rect x="396" y="506" width="1" height="3" fill="#fff"/>
<rect x="376" y="512" width="1" height="3" fill="#fff"/>
<rect x="396" y="512" width="1" height="3" fill="#fff"/>
<rect x="376" y="518" width="1" height="3" fill="#fff"/>
<rect x="396" y="518" width="1" height="3" fill="#fff"/>
<rect x="376" y="524" width="1" height="3" fill="#fff"/>
<rect x="396" y="524" width="1" height="3" fill="#fff"/>
<text transform="scale(0.72,1)" font-size="13" x="531.02 531.50 530.46 530.46 530.54" y="466.0 481.1 496.2 511.3 526.4">BANK1</text>
<rect x="91" y="450" width="25" height="84" fill="#000"/>
<rect x="101" y="452" width="5" height="77" fill="#fff"/>
<rect x="93" y="453" width="6" height="3" fill="#fff"/>
<rect x="108" y="453" width="6" height="3" fill="#fff"/>
<rect x="93" y="459" width="6" height="3" fill="#fff"/>
<rect x="108" y="459" width="6" height="3" fill="#fff"/>
<rect x="93" y="465" width="6" height="3" fill="#fff"/>
<rect x="108" y="465" width="6" height="3" fill="#fff"/>
<rect x="93" y="470" width="6" height="3" fill="#fff"/>
<rect x="108" y="470" width="6" height="3" fill="#fff"/>
<rect x="93" y="476" width="6" height="3" fill="#fff"/>
<rect x="108" y="476" width="6" height="3" fill="#fff"/>
<rect x="93" y="482" width="6" height="3" fill="#fff"/>
<rect x="108" y="482" width="6" height="3" fill="#fff"/>
<rect x="93" y="488" width="6" height="3" fill="#fff"/>
<rect x="108" y="488" width="6" height="3" fill="#fff"/>
<rect x="93" y="494" width="6" height="3" fill="#fff"/>
<rect x="108" y="494" width="6" height="3" fill="#fff"/>
<rect x="93" y="499" width="6" height="3" fill="#fff"/>
<rect x="108" y="499" width="6" height="3" fill="#fff"/>
<rect x="93" y="505" width="6" height="3" fill="#fff"/>
<rect x="108" y="505" width="6" height="3" fill="#fff"/>
<rect x="93" y="511" width="6" height="3" fill="#fff"/>
<rect x="108" y="511" width="6" height="3" fill="#fff"/>
<rect x="93" y="517" width="6" height="3" fill="#fff"/>
<rect x="108" y="517" width="6" height="3" fill="#fff"/>
<polygon points="101,452 106,452 103.5,454.5" fill="#000"/>
<rect x="94" y="525" width="5" height="1" fill="#fff"/>
<rect x="109" y="525" width="6" height="1" fill="#fff"/>
<rect x="94" y="528" width="5" height="4" fill="#fff"/>
<rect x="109" y="528" width="6" height="4" fill="#fff"/>
<polyline points="119,440.5 243,440.5 253.5,434.5 264,440.5 388,440.5 397,447.5" fill="none" stroke="#000" stroke-width="1" shape-rendering="auto"/>
<rect x="526" y="515" width="112" height="25" fill="#000"/>
<rect x="527" y="516" width="110" height="23" fill="#fff"/>
<rect x="527" y="523" width="110" height="1" fill="#000"/>
<rect x="530" y="518" width="5" height="1" fill="#000"/>
<rect x="529" y="519" width="7" height="3" fill="#000"/>
<rect x="530" y="520" width="5" height="1" fill="#fff"/>
<rect x="530" y="522" width="5" height="1" fill="#000"/>
<rect x="528" y="526" width="8" height="2" fill="#000"/>
<rect x="539" y="518" width="5" height="1" fill="#000"/>
<rect x="538" y="519" width="7" height="3" fill="#000"/>
<rect x="539" y="520" width="5" height="1" fill="#fff"/>
<rect x="539" y="522" width="5" height="1" fill="#000"/>
<rect x="537" y="526" width="8" height="2" fill="#000"/>
<rect x="548" y="518" width="5" height="1" fill="#000"/>
<rect x="547" y="519" width="7" height="3" fill="#000"/>
<rect x="548" y="520" width="5" height="1" fill="#fff"/>
<rect x="548" y="522" width="5" height="1" fill="#000"/>
<rect x="546" y="526" width="8" height="2" fill="#000"/>
<rect x="557" y="518" width="5" height="1" fill="#000"/>
<rect x="556" y="519" width="7" height="3" fill="#000"/>
<rect x="557" y="520" width="5" height="1" fill="#fff"/>
<rect x="557" y="522" width="5" height="1" fill="#000"/>
<rect x="555" y="526" width="8" height="2" fill="#000"/>
<rect x="566" y="518" width="5" height="1" fill="#000"/>
<rect x="565" y="519" width="7" height="3" fill="#000"/>
<rect x="566" y="520" width="5" height="1" fill="#fff"/>
<rect x="566" y="522" width="5" height="1" fill="#000"/>
<rect x="564" y="526" width="8" height="2" fill="#000"/>
<rect x="575" y="518" width="5" height="1" fill="#000"/>
<rect x="574" y="519" width="7" height="3" fill="#000"/>
<rect x="575" y="520" width="5" height="1" fill="#fff"/>
<rect x="575" y="522" width="5" height="1" fill="#000"/>
<rect x="573" y="526" width="8" height="2" fill="#000"/>
<rect x="585" y="518" width="5" height="1" fill="#000"/>
<rect x="584" y="519" width="7" height="3" fill="#000"/>
<rect x="585" y="520" width="5" height="1" fill="#fff"/>
<rect x="585" y="522" width="5" height="1" fill="#000"/>
<rect x="583" y="526" width="8" height="2" fill="#000"/>
<rect x="594" y="518" width="5" height="1" fill="#000"/>
<rect x="593" y="519" width="7" height="3" fill="#000"/>
<rect x="594" y="520" width="5" height="1" fill="#fff"/>
<rect x="594" y="522" width="5" height="1" fill="#000"/>
<rect x="592" y="526" width="8" height="2" fill="#000"/>
<rect x="603" y="518" width="5" height="1" fill="#000"/>
<rect x="602" y="519" width="7" height="3" fill="#000"/>
<rect x="603" y="520" width="5" height="1" fill="#fff"/>
<rect x="603" y="522" width="5" height="1" fill="#000"/>
<rect x="601" y="526" width="8" height="2" fill="#000"/>
<rect x="612" y="518" width="5" height="1" fill="#000"/>
<rect x="611" y="519" width="7" height="3" fill="#000"/>
<rect x="612" y="520" width="5" height="1" fill="#fff"/>
<rect x="612" y="522" width="5" height="1" fill="#000"/>
<rect x="610" y="526" width="8" height="2" fill="#000"/>
<rect x="621" y="518" width="5" height="1" fill="#000"/>
<rect x="620" y="519" width="7" height="3" fill="#000"/>
<rect x="621" y="520" width="5" height="1" fill="#fff"/>
<rect x="621" y="522" width="5" height="1" fill="#000"/>
<rect x="619" y="526" width="8" height="2" fill="#000"/>
<rect x="630" y="518" width="5" height="1" fill="#000"/>
<rect x="629" y="519" width="7" height="3" fill="#000"/>
<rect x="630" y="520" width="5" height="1" fill="#fff"/>
<rect x="630" y="522" width="5" height="1" fill="#000"/>
<rect x="628" y="526" width="8" height="2" fill="#000"/>
<rect x="532" y="529" width="7" height="8" fill="#000"/>
<rect x="533" y="530" width="5" height="6" fill="#fff"/>
<rect x="541" y="529" width="7" height="8" fill="#000"/>
<rect x="542" y="530" width="5" height="6" fill="#fff"/>
<rect x="551" y="529" width="7" height="8" fill="#000"/>
<rect x="552" y="530" width="5" height="6" fill="#fff"/>
<rect x="560" y="529" width="7" height="8" fill="#000"/>
<rect x="561" y="530" width="5" height="6" fill="#fff"/>
<rect x="569" y="529" width="7" height="8" fill="#000"/>
<rect x="570" y="530" width="5" height="6" fill="#fff"/>
<rect x="578" y="529" width="7" height="8" fill="#000"/>
<rect x="579" y="530" width="5" height="6" fill="#fff"/>
<rect x="588" y="529" width="7" height="8" fill="#000"/>
<rect x="589" y="530" width="5" height="6" fill="#fff"/>
<rect x="597" y="529" width="7" height="8" fill="#000"/>
<rect x="598" y="530" width="5" height="6" fill="#fff"/>
<rect x="606" y="529" width="7" height="8" fill="#000"/>
<rect x="607" y="530" width="5" height="6" fill="#fff"/>
<rect x="616" y="529" width="7" height="8" fill="#000"/>
<rect x="617" y="530" width="5" height="6" fill="#fff"/>
<rect x="625" y="529" width="7" height="8" fill="#000"/>
<rect x="626" y="530" width="5" height="6" fill="#fff"/>
<rect x="527" y="528" width="2" height="2" fill="#000"/>
<rect x="527" y="534" width="2" height="2" fill="#000"/>
<rect x="529" y="529" width="1" height="6" fill="#000"/>
<rect x="635" y="528" width="2" height="2" fill="#000"/>
<rect x="635" y="534" width="2" height="2" fill="#000"/>
<rect x="664" y="449" width="29" height="37" fill="#000"/>
<rect x="688" y="444" width="5" height="48" fill="#000"/>
<rect x="691" y="442" width="2" height="52" fill="#000"/>
<rect x="657" y="457" width="5" height="9" fill="#000"/>
<rect x="658" y="458" width="3" height="7" fill="#fff"/>
<rect x="657" y="469" width="5" height="9" fill="#000"/>
<rect x="658" y="470" width="3" height="7" fill="#fff"/>
<rect x="661" y="455" width="3" height="25" fill="#000"/>
<rect x="662" y="456" width="2" height="23" fill="#fff"/>
<rect x="662" y="457" width="2" height="1" fill="#000"/>
<rect x="662" y="459" width="2" height="1" fill="#000"/>
<rect x="662" y="461" width="2" height="1" fill="#000"/>
<rect x="662" y="463" width="2" height="1" fill="#000"/>
<rect x="662" y="465" width="2" height="1" fill="#000"/>
<rect x="662" y="469" width="2" height="1" fill="#000"/>
<rect x="662" y="471" width="2" height="1" fill="#000"/>
<rect x="662" y="473" width="2" height="1" fill="#000"/>
<rect x="662" y="475" width="2" height="1" fill="#000"/>
<rect x="662" y="477" width="2" height="1" fill="#000"/>
<rect x="662" y="466" width="2" height="3" fill="#fff"/>
<rect x="56" y="13" width="31" height="7" fill="#000"/>
<rect x="57" y="14" width="7" height="5" fill="#fff"/>
<rect x="59" y="15" width="2" height="3" fill="#000"/>
<rect x="68" y="14" width="1" height="5" fill="#fff"/>
<rect x="74" y="14" width="1" height="5" fill="#fff"/>
<rect x="80" y="14" width="1" height="5" fill="#fff"/>
<rect x="111" y="13" width="26" height="7" fill="#000"/>
<rect x="112" y="14" width="7" height="5" fill="#fff"/>
<rect x="114" y="15" width="2" height="3" fill="#000"/>
<rect x="123" y="14" width="1" height="5" fill="#fff"/>
<rect x="129" y="14" width="1" height="5" fill="#fff"/>
<rect x="134" y="14" width="2" height="5" fill="#fff"/>
<rect x="157" y="13" width="19" height="7" fill="#000"/>
<rect x="159" y="15" width="3" height="3" fill="#fff"/>
<rect x="163" y="14" width="1" height="5" fill="#fff"/>
<rect x="169" y="14" width="1" height="5" fill="#fff"/>
<rect x="56" y="28" width="14" height="7" fill="#000"/>
<rect x="57" y="29" width="1" height="5" fill="#fff"/>
<rect x="62" y="29" width="2" height="5" fill="#fff"/>
<rect x="68" y="29" width="1" height="5" fill="#fff"/>
<rect x="56" y="41" width="14" height="7" fill="#000"/>
<rect x="57" y="42" width="1" height="5" fill="#fff"/>
<rect x="57" y="46" width="12" height="1" fill="#fff"/>
<rect x="62" y="42" width="2" height="4" fill="#fff"/>
<rect x="68" y="42" width="1" height="5" fill="#fff"/>
<rect x="40" y="84" width="7" height="14" fill="#000"/>
<rect x="41" y="85" width="5" height="1" fill="#fff"/>
<rect x="41" y="90" width="5" height="2" fill="#fff"/>
<rect x="41" y="96" width="5" height="1" fill="#fff"/>
<rect x="40" y="122" width="7" height="14" fill="#000"/>
<rect x="41" y="123" width="5" height="1" fill="#fff"/>
<rect x="41" y="128" width="5" height="2" fill="#fff"/>
<rect x="41" y="134" width="5" height="1" fill="#fff"/>
<rect x="72" y="227" width="7" height="14" fill="#000"/>
<rect x="73" y="228" width="5" height="1" fill="#fff"/>
<rect x="73" y="233" width="5" height="2" fill="#fff"/>
<rect x="73" y="239" width="5" height="1" fill="#fff"/>
<rect x="634" y="23" width="7" height="14" fill="#000"/>
<rect x="635" y="24" width="1" height="12" fill="#fff"/>
<rect x="635" y="24" width="5" height="1" fill="#fff"/>
<rect x="635" y="29" width="5" height="2" fill="#fff"/>
<rect x="635" y="35" width="5" height="1" fill="#fff"/>
<rect x="647" y="23" width="7" height="19" fill="#000"/>
<rect x="648" y="24" width="5" height="1" fill="#fff"/>
<rect x="649" y="26" width="3" height="2" fill="#fff"/>
<rect x="648" y="29" width="5" height="2" fill="#fff"/>
<rect x="648" y="35" width="5" height="1" fill="#fff"/>
<rect x="60" y="169" width="19" height="18" fill="#000"/>
<rect x="61" y="170" width="17" height="1" fill="#fff"/>
<rect x="61" y="181" width="17" height="1" fill="#fff"/>
<rect x="66" y="171" width="1" height="5" fill="#fff"/>
<rect x="66" y="177" width="1" height="4" fill="#fff"/>
<rect x="66" y="182" width="1" height="4" fill="#fff"/>
<rect x="72" y="171" width="1" height="5" fill="#fff"/>
<rect x="72" y="177" width="1" height="4" fill="#fff"/>
<rect x="72" y="182" width="1" height="4" fill="#fff"/>
<rect x="77" y="171" width="1" height="5" fill="#fff"/>
<rect x="77" y="177" width="1" height="4" fill="#fff"/>
<rect x="77" y="182" width="1" height="4" fill="#fff"/>
<rect x="74" y="172" width="2" height="2" fill="#fff"/>
<rect x="74" y="177" width="2" height="3" fill="#fff"/>
<rect x="74" y="183" width="2" height="2" fill="#fff"/>
<rect x="190" y="334" width="7" height="19" fill="#000"/>
<rect x="191" y="335" width="5" height="1" fill="#fff"/>
<rect x="192" y="337" width="3" height="2" fill="#fff"/>
<rect x="191" y="340" width="5" height="1" fill="#fff"/>
<rect x="191" y="346" width="5" height="1" fill="#fff"/>
<rect x="205" y="357" width="13" height="7" fill="#000"/>
<rect x="206" y="358" width="11" height="1" fill="#fff"/>
<rect x="211" y="359" width="1" height="4" fill="#fff"/>
<rect x="57" y="449" width="20" height="18" fill="#000"/>
<rect x="58" y="450" width="1" height="4" fill="#fff"/>
<rect x="58" y="456" width="1" height="4" fill="#fff"/>
<rect x="58" y="462" width="1" height="4" fill="#fff"/>
<rect x="64" y="450" width="1" height="4" fill="#fff"/>
<rect x="64" y="456" width="1" height="4" fill="#fff"/>
<rect x="64" y="462" width="1" height="4" fill="#fff"/>
<rect x="75" y="450" width="1" height="4" fill="#fff"/>
<rect x="75" y="456" width="1" height="4" fill="#fff"/>
<rect x="75" y="462" width="1" height="4" fill="#fff"/>
<rect x="69" y="450" width="2" height="4" fill="#fff"/>
<rect x="69" y="456" width="2" height="4" fill="#fff"/>
<rect x="69" y="462" width="2" height="4" fill="#fff"/>
<rect x="58" y="454" width="18" height="1" fill="#fff"/>
<rect x="60" y="451" width="3" height="2" fill="#fff"/>
<rect x="60" y="457" width="3" height="2" fill="#fff"/>
<rect x="60" y="462" width="3" height="3" fill="#fff"/>
<rect x="59" y="455" width="5" height="1" fill="#000"/>
<rect x="59" y="460" width="5" height="2" fill="#000"/>
<rect x="58" y="490" width="19" height="29" fill="#000"/>
<rect x="59" y="491" width="17" height="1" fill="#fff"/>
<rect x="59" y="501" width="17" height="1" fill="#fff"/>
<rect x="59" y="492" width="1" height="4" fill="#fff"/>
<rect x="59" y="497" width="1" height="4" fill="#fff"/>
<rect x="59" y="503" width="1" height="5" fill="#fff"/>
<rect x="59" y="509" width="1" height="4" fill="#fff"/>
<rect x="59" y="514" width="1" height="4" fill="#fff"/>
<rect x="64" y="492" width="1" height="4" fill="#fff"/>
<rect x="64" y="497" width="1" height="4" fill="#fff"/>
<rect x="64" y="503" width="1" height="5" fill="#fff"/>
<rect x="64" y="509" width="1" height="4" fill="#fff"/>
<rect x="64" y="514" width="1" height="4" fill="#fff"/>
<rect x="70" y="492" width="1" height="4" fill="#fff"/>
<rect x="70" y="497" width="1" height="4" fill="#fff"/>
<rect x="70" y="503" width="1" height="5" fill="#fff"/>
<rect x="70" y="509" width="1" height="4" fill="#fff"/>
<rect x="70" y="514" width="1" height="4" fill="#fff"/>
<rect x="61" y="493" width="2" height="2" fill="#fff"/>
<rect x="61" y="498" width="2" height="2" fill="#fff"/>
<rect x="61" y="504" width="2" height="2" fill="#fff"/>
<rect x="61" y="509" width="2" height="2" fill="#fff"/>
<rect x="61" y="515" width="2" height="2" fill="#fff"/>
<polygon points="55.00,31.20 47.35,32.70 38.00,34.80 36.00,34.86 36.00,28.76 38.00,28.70 47.35,30.20" fill="#000" stroke="#000" stroke-width="0.9" stroke-linejoin="round" shape-rendering="auto"/>
<polygon points="44.46,31.54 38.00,32.60 36.00,32.66 36.00,30.76 38.00,30.70" fill="#fff" shape-rendering="auto"/>
<rect x="14" y="22" width="25" height="19" rx="2.6" fill="#000" shape-rendering="auto"/>
<rect x="15.5" y="23.75" width="21.25" height="14.75" rx="1.0" fill="#fff" shape-rendering="auto"/>
<text transform="translate(19.69,35) scale(0.710,1)" font-size="14.2" letter-spacing="1.27">J4</text>
<polygon points="71.50,21.00 76.45,24.21 82.24,28.33 83.66,29.74 79.67,32.59 78.26,31.17 74.42,25.66" fill="#000" stroke="#000" stroke-width="0.9" stroke-linejoin="round" shape-rendering="auto"/>
<polygon points="76.92,26.43 80.45,29.60 81.87,31.02 81.30,31.43 79.88,30.01" fill="#fff" shape-rendering="auto"/>
<rect x="78" y="28" width="25" height="19" rx="2.6" fill="#000" shape-rendering="auto"/>
<rect x="79.5" y="29.75" width="21.25" height="14.75" rx="1.0" fill="#fff" shape-rendering="auto"/>
<text transform="translate(83.69,41) scale(0.710,1)" font-size="14.2" letter-spacing="1.55">J1</text>
<polygon points="63.30,48.30 59.98,52.77 55.23,57.69 53.72,58.99 50.75,56.62 52.27,55.31 58.03,51.21" fill="#000" stroke="#000" stroke-width="0.9" stroke-linejoin="round" shape-rendering="auto"/>
<polygon points="57.38,53.38 53.52,56.31 52.00,57.62 52.31,57.86 53.83,56.56" fill="#fff" shape-rendering="auto"/>
<rect x="31" y="55" width="25" height="19" rx="2.6" fill="#000" shape-rendering="auto"/>
<rect x="32.5" y="56.75" width="21.25" height="14.75" rx="1.0" fill="#fff" shape-rendering="auto"/>
<text transform="translate(36.19,68) scale(0.710,1)" font-size="14.2" letter-spacing="1.45">J5</text>
<polygon points="123.50,21.50 128.46,24.36 134.19,28.27 135.66,29.62 132.78,33.08 131.31,31.73 126.86,26.29" fill="#000" stroke="#000" stroke-width="0.9" stroke-linejoin="round" shape-rendering="auto"/>
<polygon points="129.24,26.77 132.78,29.96 134.26,31.31 134.06,31.55 132.59,30.19" fill="#fff" shape-rendering="auto"/>
<rect x="131" y="28" width="24" height="19" rx="2.6" fill="#000" shape-rendering="auto"/>
<rect x="132.5" y="30.7" width="20.25" height="14.600000000000001" rx="1.0" fill="#fff" shape-rendering="auto"/>
<text transform="translate(135.39,41) scale(0.710,1)" font-size="14.2" letter-spacing="1.57">J2</text>
<polygon points="166.50,21.50 171.46,24.36 177.19,28.27 178.66,29.62 175.78,33.08 174.31,31.73 169.86,26.29" fill="#000" stroke="#000" stroke-width="0.9" stroke-linejoin="round" shape-rendering="auto"/>
<polygon points="172.24,26.77 175.78,29.96 177.26,31.31 177.06,31.55 175.59,30.19" fill="#fff" shape-rendering="auto"/>
<rect x="174" y="28" width="24" height="19" rx="2.6" fill="#000" shape-rendering="auto"/>
<rect x="175.5" y="30.7" width="20.25" height="14.600000000000001" rx="1.0" fill="#fff" shape-rendering="auto"/>
<text transform="translate(177.59,41) scale(0.710,1)" font-size="14.2" letter-spacing="1.48">J3</text>
<polygon points="637.80,38.00 639.42,48.85 640.60,55.50 640.62,57.50 635.42,57.50 635.40,55.50 636.42,48.85" fill="#000" stroke="#000" stroke-width="0.9" stroke-linejoin="round" shape-rendering="auto"/>
<polygon points="637.95,50.77 638.40,55.50 638.42,57.50 637.42,57.50 637.40,55.50" fill="#fff" shape-rendering="auto"/>
<rect x="626" y="55" width="26" height="18" rx="2.6" fill="#000" shape-rendering="auto"/>
<rect x="627.5" y="56.75" width="22.25" height="13.75" rx="1.0" fill="#fff" shape-rendering="auto"/>
<text transform="translate(630.69,68) scale(0.710,1)" font-size="14.2" letter-spacing="1.57">J7</text>
<polygon points="655.50,33.00 660.37,35.68 665.75,39.33 667.25,40.66 663.75,42.99 662.25,41.67 658.28,37.07" fill="#000" stroke="#000" stroke-width="0.9" stroke-linejoin="round" shape-rendering="auto"/>
<polygon points="660.77,37.65 663.92,40.55 665.42,41.88 665.41,41.88 663.91,40.56" fill="#fff" shape-rendering="auto"/>
<rect x="662" y="39" width="25" height="19" rx="2.6" fill="#000" shape-rendering="auto"/>
<rect x="663.5" y="40.75" width="21.25" height="14.75" rx="1.0" fill="#fff" shape-rendering="auto"/>
<text transform="translate(667.69,52) scale(0.710,1)" font-size="14.2" letter-spacing="1.48">J8</text>
<polygon points="47.00,90.50 53.98,91.64 62.50,93.80 64.50,93.77 64.50,86.67 62.50,86.70 53.98,89.14" fill="#000" stroke="#000" stroke-width="0.9" stroke-linejoin="round" shape-rendering="auto"/>
<polygon points="56.61,90.34 62.50,91.60 64.50,91.57 64.50,88.67 62.50,88.70" fill="#fff" shape-rendering="auto"/>
<rect x="62" y="81" width="26" height="19" rx="2.6" fill="#000" shape-rendering="auto"/>
<rect x="63.5" y="84" width="22.25" height="13.5" rx="1.0" fill="#fff" shape-rendering="auto"/>
<text transform="translate(67.69,95) scale(0.710,1)" font-size="14.2" letter-spacing="1.53">J9</text>
<polygon points="47.00,129.00 54.42,130.36 63.50,132.80 65.50,132.83 65.50,125.73 63.50,125.70 54.42,127.86" fill="#000" stroke="#000" stroke-width="0.9" stroke-linejoin="round" shape-rendering="auto"/>
<polygon points="57.23,129.16 63.50,130.60 65.50,130.63 65.50,127.73 63.50,127.70" fill="#fff" shape-rendering="auto"/>
<rect x="63" y="119" width="36" height="19" rx="2.6" fill="#000" shape-rendering="auto"/>
<rect x="64.5" y="122" width="32.25" height="13.5" rx="1.0" fill="#fff" shape-rendering="auto"/>
<text transform="translate(69.74,133) scale(0.710,1)" font-size="14.2" letter-spacing="3.03">J10</text>
<polygon points="68.50,167.30 65.94,162.87 62.25,157.83 60.86,156.39 57.36,158.73 58.75,160.17 63.86,164.26" fill="#000" stroke="#000" stroke-width="0.9" stroke-linejoin="round" shape-rendering="auto"/>
<polygon points="63.54,162.15 60.42,159.05 59.03,157.61 59.03,157.62 60.41,159.06" fill="#fff" shape-rendering="auto"/>
<rect x="28" y="142" width="35" height="19" rx="2.6" fill="#000" shape-rendering="auto"/>
<rect x="30.5" y="145" width="30.25" height="13.5" rx="1.0" fill="#fff" shape-rendering="auto"/>
<text transform="translate(34.29,156) scale(0.710,1)" font-size="14.2" letter-spacing="2.04">J31</text>
<polygon points="58.50,178.00 51.52,179.36 43.00,181.80 41.00,181.83 41.00,174.73 43.00,174.70 51.52,176.86" fill="#000" stroke="#000" stroke-width="0.9" stroke-linejoin="round" shape-rendering="auto"/>
<polygon points="48.89,178.16 43.00,179.60 41.00,179.63 41.00,176.73 43.00,176.70" fill="#fff" shape-rendering="auto"/>
<rect x="8" y="169" width="36" height="19" rx="2.6" fill="#000" shape-rendering="auto"/>
<rect x="9.5" y="170.75" width="32.25" height="14.75" rx="1.0" fill="#fff" shape-rendering="auto"/>
<text transform="translate(14.74,182) scale(0.710,1)" font-size="14.2" letter-spacing="3.03">J30</text>
<polygon points="69.80,188.20 66.66,192.71 62.24,197.78 60.76,199.12 57.48,196.66 58.96,195.32 64.66,191.21" fill="#000" stroke="#000" stroke-width="0.9" stroke-linejoin="round" shape-rendering="auto"/>
<polygon points="64.10,193.38 60.48,196.46 59.00,197.80 59.08,197.86 60.56,196.52" fill="#fff" shape-rendering="auto"/>
<rect x="29" y="195" width="34" height="19" rx="2.6" fill="#000" shape-rendering="auto"/>
<rect x="30.5" y="197.7" width="30.25" height="13.8" rx="1.0" fill="#fff" shape-rendering="auto"/>
<text transform="translate(34.74,209) scale(0.710,1)" font-size="14.2" letter-spacing="2.25">J11</text>
<polygon points="71.00,233.20 64.03,234.36 55.50,236.30 53.50,236.27 53.50,229.67 55.50,229.70 64.03,231.86" fill="#000" stroke="#000" stroke-width="0.9" stroke-linejoin="round" shape-rendering="auto"/>
<polygon points="61.39,233.08 55.50,234.10 53.50,234.07 53.50,231.67 55.50,231.70" fill="#fff" shape-rendering="auto"/>
<rect x="30" y="224" width="26" height="19" rx="2.6" fill="#000" shape-rendering="auto"/>
<rect x="31.5" y="227" width="22.25" height="13.5" rx="1.0" fill="#fff" shape-rendering="auto"/>
<text transform="translate(35.79,237) scale(0.710,1)" font-size="14.2" letter-spacing="1.48">J6</text>
<polygon points="198.50,344.50 202.26,340.50 207.72,335.91 209.33,334.73 212.90,335.92 211.28,337.09 204.64,341.30" fill="#000" stroke="#000" stroke-width="0.9" stroke-linejoin="round" shape-rendering="auto"/>
<polygon points="205.32,339.54 209.80,336.60 211.42,335.42 211.00,335.29 209.39,336.46" fill="#fff" shape-rendering="auto"/>
<rect x="205" y="319" width="34" height="19" rx="2.6" fill="#000" shape-rendering="auto"/>
<rect x="206.5" y="320.75" width="30.25" height="14.75" rx="1.0" fill="#fff" shape-rendering="auto"/>
<text transform="translate(210.74,332) scale(0.710,1)" font-size="14.2" letter-spacing="3.11">J12</text>
<polygon points="220.50,360.70 227.47,361.97 236.00,364.30 238.00,364.31 238.00,357.21 236.00,357.20 227.47,359.47" fill="#000" stroke="#000" stroke-width="0.9" stroke-linejoin="round" shape-rendering="auto"/>
<polygon points="230.11,360.73 236.00,362.10 238.00,362.11 238.00,359.21 236.00,359.20" fill="#fff" shape-rendering="auto"/>
<rect x="236" y="352" width="35" height="18" rx="2.6" fill="#000" shape-rendering="auto"/>
<rect x="237.5" y="353.75" width="31.25" height="13.75" rx="1.0" fill="#fff" shape-rendering="auto"/>
<text transform="translate(242.24,365) scale(0.710,1)" font-size="14.2" letter-spacing="3.06">J13</text>
<polygon points="66.60,446.60 68.07,436.31 69.90,430.00 69.89,428.00 63.19,428.00 63.20,430.00 65.07,436.31" fill="#000" stroke="#000" stroke-width="0.9" stroke-linejoin="round" shape-rendering="auto"/>
<polygon points="66.56,434.48 67.70,430.00 67.69,428.00 65.19,428.00 65.20,430.00" fill="#fff" shape-rendering="auto"/>
<rect x="51" y="412" width="33" height="19" rx="2.6" fill="#000" shape-rendering="auto"/>
<rect x="52.5" y="414.6" width="29.25" height="13.899999999999999" rx="1.0" fill="#fff" shape-rendering="auto"/>
<text transform="translate(56.24,426) scale(0.710,1)" font-size="14.2" letter-spacing="2.96">J14</text>
<polygon points="56.70,462.80 53.69,458.49 49.85,453.34 48.36,452.00 44.06,454.83 45.55,456.16 51.61,459.86" fill="#000" stroke="#000" stroke-width="0.9" stroke-linejoin="round" shape-rendering="auto"/>
<polygon points="51.12,457.81 48.01,454.54 46.52,453.21 45.73,453.73 47.22,455.07" fill="#fff" shape-rendering="auto"/>
<rect x="15" y="438" width="35" height="19" rx="2.6" fill="#000" shape-rendering="auto"/>
<rect x="16.5" y="439.75" width="31.25" height="14.75" rx="1.0" fill="#fff" shape-rendering="auto"/>
<text transform="translate(21.24,451) scale(0.710,1)" font-size="14.2" letter-spacing="3.06">J16</text>
<polygon points="78.50,457.50 81.78,452.70 85.76,446.82 87.21,445.44 91.69,448.80 90.24,450.18 83.78,454.20" fill="#000" stroke="#000" stroke-width="0.9" stroke-linejoin="round" shape-rendering="auto"/>
<polygon points="84.39,451.92 87.52,448.14 88.97,446.76 90.09,447.60 88.64,448.98" fill="#fff" shape-rendering="auto"/>
<rect x="85" y="433" width="34" height="18" rx="2.6" fill="#000" shape-rendering="auto"/>
<rect x="86.5" y="434.75" width="30.25" height="13.75" rx="1.0" fill="#fff" shape-rendering="auto"/>
<text transform="translate(90.74,446) scale(0.710,1)" font-size="14.2" letter-spacing="3.05">J15</text>
<polygon points="58.00,493.50 54.78,489.03 50.62,483.79 49.11,482.47 45.58,485.89 47.08,487.21 52.98,490.77" fill="#000" stroke="#000" stroke-width="0.9" stroke-linejoin="round" shape-rendering="auto"/>
<polygon points="52.33,488.54 49.03,485.32 47.53,484.00 47.02,484.50 48.52,485.82" fill="#fff" shape-rendering="auto"/>
<rect x="16" y="469" width="35" height="19" rx="2.6" fill="#000" shape-rendering="auto"/>
<rect x="17.5" y="470.75" width="31.25" height="14.75" rx="1.0" fill="#fff" shape-rendering="auto"/>
<text transform="translate(23.04,482) scale(0.710,1)" font-size="14.2" letter-spacing="3.11">J17</text>
<polygon points="57.80,504.30 50.91,505.08 42.50,507.30 40.50,507.16 40.50,499.06 42.50,499.20 50.91,502.58" fill="#000" stroke="#000" stroke-width="0.9" stroke-linejoin="round" shape-rendering="auto"/>
<polygon points="48.31,503.65 42.50,505.10 40.50,504.96 40.50,501.06 42.50,501.20" fill="#fff" shape-rendering="auto"/>
<rect x="8" y="495" width="35" height="19" rx="2.6" fill="#000" shape-rendering="auto"/>
<rect x="9.5" y="496.75" width="31.25" height="14.75" rx="1.0" fill="#fff" shape-rendering="auto"/>
<text transform="translate(14.49,508) scale(0.710,1)" font-size="14.2" letter-spacing="3.08">J19</text>
<polygon points="57.80,510.20 54.67,514.98 50.52,520.51 49.08,521.90 45.75,518.69 47.18,517.29 52.87,513.25" fill="#000" stroke="#000" stroke-width="0.9" stroke-linejoin="round" shape-rendering="auto"/>
<polygon points="52.25,515.59 48.93,518.98 47.50,520.37 47.19,520.07 48.62,518.68" fill="#fff" shape-rendering="auto"/>
<rect x="16" y="517" width="35" height="19" rx="2.6" fill="#000" shape-rendering="auto"/>
<rect x="17.5" y="518.75" width="31.25" height="14.75" rx="1.0" fill="#fff" shape-rendering="auto"/>
<text transform="translate(22.44,530) scale(0.710,1)" font-size="14.2" letter-spacing="3.03">J20</text>
<polygon points="67.80,519.30 69.49,529.65 71.30,536.00 71.34,538.00 64.94,538.00 64.90,536.00 66.49,529.65" fill="#000" stroke="#000" stroke-width="0.9" stroke-linejoin="round" shape-rendering="auto"/>
<polygon points="68.02,531.49 69.10,536.00 69.14,538.00 66.94,538.00 66.90,536.00" fill="#fff" shape-rendering="auto"/>
<rect x="53" y="536" width="33" height="17" rx="2.6" fill="#000" shape-rendering="auto"/>
<rect x="54.5" y="537.75" width="29.25" height="12.75" rx="1.0" fill="#fff" shape-rendering="auto"/>
<text transform="translate(57.04,549) scale(0.710,1)" font-size="14.2" letter-spacing="3.09">J21</text>
<polygon points="77.30,499.60 82.21,502.46 87.74,506.32 89.21,507.68 85.73,510.34 84.26,508.98 80.22,503.98" fill="#000" stroke="#000" stroke-width="0.9" stroke-linejoin="round" shape-rendering="auto"/>
<polygon points="82.69,504.59 85.99,507.66 87.46,509.01 87.32,509.12 85.85,507.77" fill="#fff" shape-rendering="auto"/>
<rect x="84" y="506" width="34" height="18" rx="2.6" fill="#000" shape-rendering="auto"/>
<rect x="85.5" y="507.75" width="30.25" height="13.75" rx="1.0" fill="#fff" shape-rendering="auto"/>
<text transform="translate(89.74,519) scale(0.710,1)" font-size="14.2" letter-spacing="3.06">J18</text>
<rect x="88" y="483" width="32" height="18" rx="2.6" fill="#000" shape-rendering="auto"/>
<rect x="89.5" y="484.75" width="28.25" height="13.75" rx="1.0" fill="#fff" shape-rendering="auto"/>
<text transform="translate(91.67,496) scale(0.710,1)" font-size="14.2" letter-spacing="1.59">TAG</text>
<rect x="149" y="76" width="33" height="19" rx="2.6" fill="#000" shape-rendering="auto"/>
<rect x="152" y="77.75" width="27.75" height="14.75" rx="1.0" fill="#fff" shape-rendering="auto"/>
<text transform="translate(152.10,90) scale(0.710,1)" font-size="14" letter-spacing="3.58">CPU</text>
<rect x="150" y="197" width="29" height="14" fill="#fff"/>
<text transform="translate(150.70,208) scale(0.710,1)" font-size="14" letter-spacing="3.93">CPU</text>
<rect x="498" y="358" width="60" height="18" rx="2.6" fill="#000" shape-rendering="auto"/>
<rect x="499.5" y="359.75" width="56.25" height="13.75" rx="1.0" fill="#fff" shape-rendering="auto"/>
<text transform="translate(503.32,371.5) scale(0.710,1)" font-size="14.2" letter-spacing="3.06">BANK 0</text>
<rect x="498" y="438" width="60" height="19" rx="2.6" fill="#000" shape-rendering="auto"/>
<rect x="499.5" y="439.75" width="56.25" height="14.75" rx="1.0" fill="#fff" shape-rendering="auto"/>
<text transform="translate(503.32,451.5) scale(0.710,1)" font-size="14.2" letter-spacing="3.09">BANK 1</text>
<rect x="228" y="410" width="50" height="19" rx="2.6" fill="#000" shape-rendering="auto"/>
<rect x="230" y="412" width="46" height="15" rx="1.0" fill="#fff" shape-rendering="auto"/>
<text transform="translate(229.24,424) scale(0.710,1)" font-size="14.2" letter-spacing="3.50">CACHE</text>
</svg>
</body></html>
